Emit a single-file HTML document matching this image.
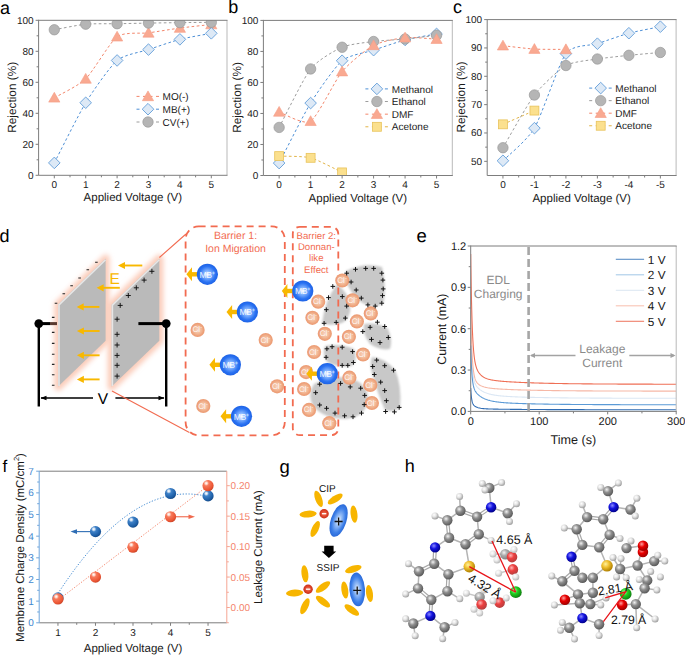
<!DOCTYPE html>
<html><head><meta charset="utf-8"><style>
html,body{margin:0;padding:0;background:#fff;}
body{width:685px;height:656px;overflow:hidden;font-family:"Liberation Sans",sans-serif;}
svg{display:block;text-rendering:geometricPrecision;}
</style></head><body>
<svg width="685" height="656" viewBox="0 0 685 656" font-family="Liberation Sans">
<rect width="685" height="656" fill="#fff"/>
<defs><radialGradient id="gC" cx="0.38" cy="0.35" r="0.65"><stop offset="0" stop-color="#f2f2f2"/><stop offset="0.45" stop-color="#8f8f8f"/><stop offset="1" stop-color="#5a5a5a"/></radialGradient><radialGradient id="gH" cx="0.38" cy="0.35" r="0.65"><stop offset="0" stop-color="#ffffff"/><stop offset="0.45" stop-color="#e4e4e4"/><stop offset="1" stop-color="#a0a0a0"/></radialGradient><radialGradient id="gN" cx="0.38" cy="0.35" r="0.65"><stop offset="0" stop-color="#8a8aff"/><stop offset="0.45" stop-color="#1414e0"/><stop offset="1" stop-color="#00008c"/></radialGradient><radialGradient id="gS" cx="0.38" cy="0.35" r="0.65"><stop offset="0" stop-color="#fff2a0"/><stop offset="0.45" stop-color="#f0c030"/><stop offset="1" stop-color="#b08000"/></radialGradient><radialGradient id="gCl" cx="0.38" cy="0.35" r="0.65"><stop offset="0" stop-color="#b0ffb0"/><stop offset="0.45" stop-color="#20d020"/><stop offset="1" stop-color="#108010"/></radialGradient><radialGradient id="gO" cx="0.38" cy="0.35" r="0.65"><stop offset="0" stop-color="#ffa0a0"/><stop offset="0.45" stop-color="#e80000"/><stop offset="1" stop-color="#a00000"/></radialGradient></defs>
<defs><filter id="glow" x="-40%" y="-40%" width="180%" height="180%"><feGaussianBlur stdDeviation="2.6"/></filter><filter id="soft" x="-20%" y="-20%" width="140%" height="140%"><feGaussianBlur stdDeviation="1.3"/></filter><radialGradient id="gcl" cx="0.5" cy="0.5" r="0.5"><stop offset="0" stop-color="#f8d6c4"/><stop offset="0.55" stop-color="#f2b794"/><stop offset="0.85" stop-color="#eda079"/><stop offset="1" stop-color="#ec9c74"/></radialGradient><radialGradient id="gmb" cx="0.5" cy="0.5" r="0.5"><stop offset="0" stop-color="#f2f7ff"/><stop offset="0.3" stop-color="#86b6ff"/><stop offset="0.75" stop-color="#2a72f2"/><stop offset="1" stop-color="#1d62e6"/></radialGradient><radialGradient id="gion" cx="0.5" cy="0.5" r="0.5"><stop offset="0" stop-color="#ffffff"/><stop offset="0.3" stop-color="#9cc1f7"/><stop offset="0.75" stop-color="#3d7fe8"/><stop offset="1" stop-color="#2b6ad8"/></radialGradient><radialGradient id="gneg" cx="0.5" cy="0.5" r="0.5"><stop offset="0" stop-color="#f07a60"/><stop offset="0.6" stop-color="#e0452a"/><stop offset="1" stop-color="#c8301a"/></radialGradient></defs>
<defs><radialGradient id="gb" cx="0.36" cy="0.3" r="0.72" fx="0.34" fy="0.28"><stop offset="0" stop-color="#ffffff"/><stop offset="0.14" stop-color="#cfe0f3"/><stop offset="0.32" stop-color="#3f82c8"/><stop offset="0.8" stop-color="#1d5ea6"/><stop offset="1" stop-color="#164a86"/></radialGradient><radialGradient id="gr" cx="0.36" cy="0.3" r="0.72" fx="0.34" fy="0.28"><stop offset="0" stop-color="#ffffff"/><stop offset="0.14" stop-color="#ffd9cc"/><stop offset="0.32" stop-color="#f77a5c"/><stop offset="0.8" stop-color="#ec5634"/><stop offset="1" stop-color="#cc4629"/></radialGradient></defs>
<text x="0" y="13.7" font-size="18" text-anchor="start" fill="#000" >a</text>
<text x="33.6" y="178.8" font-size="10" text-anchor="end" fill="#1a1a1a" >0</text>
<text x="33.6" y="147.8" font-size="10" text-anchor="end" fill="#1a1a1a" >20</text>
<text x="33.6" y="116.8" font-size="10" text-anchor="end" fill="#1a1a1a" >40</text>
<text x="33.6" y="85.8" font-size="10" text-anchor="end" fill="#1a1a1a" >60</text>
<text x="33.6" y="54.8" font-size="10" text-anchor="end" fill="#1a1a1a" >80</text>
<text x="33.6" y="23.8" font-size="10" text-anchor="end" fill="#1a1a1a" >100</text>
<text x="54.3" y="188.1" font-size="10" text-anchor="middle" fill="#1a1a1a" >0</text>
<text x="85.7" y="188.1" font-size="10" text-anchor="middle" fill="#1a1a1a" >1</text>
<text x="117.1" y="188.1" font-size="10" text-anchor="middle" fill="#1a1a1a" >2</text>
<text x="148.5" y="188.1" font-size="10" text-anchor="middle" fill="#1a1a1a" >3</text>
<text x="179.9" y="188.1" font-size="10" text-anchor="middle" fill="#1a1a1a" >4</text>
<text x="211.3" y="188.1" font-size="10" text-anchor="middle" fill="#1a1a1a" >5</text>
<path d="M35.6,175.3 H38.6 M35.6,144.3 H38.6 M35.6,113.3 H38.6 M35.6,82.3 H38.6 M35.6,51.3 H38.6 M35.6,20.3 H38.6 M36.6,159.8 H38.6 M36.6,128.8 H38.6 M36.6,97.8 H38.6 M36.6,66.8 H38.6 M36.6,35.8 H38.6 M54.3,175.3 V178.3 M70,175.3 V177.3 M85.7,175.3 V178.3 M101.4,175.3 V177.3 M117.1,175.3 V178.3 M132.8,175.3 V177.3 M148.5,175.3 V178.3 M164.2,175.3 V177.3 M179.9,175.3 V178.3 M195.6,175.3 V177.3 M211.3,175.3 V178.3" stroke="#7d7d7d" stroke-width="1" fill="none"/>
<text x="132.8" y="201.4" font-size="11.5" text-anchor="middle" fill="#1a1a1a" >Applied Voltage (V)</text>
<text transform="translate(16.4,97.3) rotate(-90)" font-size="11.8" text-anchor="middle" fill="#1a1a1a">Rejection (%)</text>
<clipPath id="c1"><rect x="38.6" y="20.3" width="188.4" height="155"/></clipPath>
<g clip-path="url(#c1)">
<path d="M54.3,97.8 C57.75,95.72 78.79,85.61 85.7,78.89 C92.61,72.17 110.19,41.79 117.1,36.73 C124.01,31.67 141.59,33.81 148.5,32.86 C155.41,31.9 172.99,28.97 179.9,28.05 C186.81,27.13 207.85,24.88 211.3,24.49" fill="none" stroke="#f3866b" stroke-width="1" stroke-dasharray="2.6,2.4"/>
<path d="M54.3,162.9 C57.75,156.28 78.79,114.03 85.7,102.76 C92.61,91.49 110.19,66.29 117.1,60.45 C124.01,54.6 141.59,51.91 148.5,49.6 C155.41,47.28 172.99,41.16 179.9,39.37 C186.81,37.57 207.85,33.98 211.3,33.32" fill="none" stroke="#4d8fd6" stroke-width="1" stroke-dasharray="2.6,2.4"/>
<path d="M54.3,29.75 C57.75,29.14 78.79,24.84 85.7,24.18 C92.61,23.51 110.19,23.83 117.1,23.71 C124.01,23.59 141.59,23.21 148.5,23.09 C155.41,22.97 172.99,22.71 179.9,22.62 C186.81,22.54 207.85,22.35 211.3,22.32" fill="none" stroke="#9c9c9c" stroke-width="1" stroke-dasharray="2.6,2.4"/>
<path d="M54.3,92.31 L48.7,102.11 L59.9,102.11 Z" fill="#f9a991" stroke="#f59c84" stroke-width="0.6"/>
<path d="M85.7,73.4 L80.1,83.2 L91.3,83.2 Z" fill="#f9a991" stroke="#f59c84" stroke-width="0.6"/>
<path d="M117.1,31.24 L111.5,41.04 L122.7,41.04 Z" fill="#f9a991" stroke="#f59c84" stroke-width="0.6"/>
<path d="M148.5,27.37 L142.9,37.17 L154.1,37.17 Z" fill="#f9a991" stroke="#f59c84" stroke-width="0.6"/>
<path d="M179.9,22.56 L174.3,32.36 L185.5,32.36 Z" fill="#f9a991" stroke="#f59c84" stroke-width="0.6"/>
<path d="M211.3,19 L205.7,28.8 L216.9,28.8 Z" fill="#f9a991" stroke="#f59c84" stroke-width="0.6"/>
<path d="M54.3,157.1 L60.1,162.9 L54.3,168.7 L48.5,162.9 Z" fill="#dde9f6" stroke="#639ed9" stroke-width="0.9"/>
<path d="M85.7,96.96 L91.5,102.76 L85.7,108.56 L79.9,102.76 Z" fill="#dde9f6" stroke="#639ed9" stroke-width="0.9"/>
<path d="M117.1,54.65 L122.9,60.45 L117.1,66.25 L111.3,60.45 Z" fill="#dde9f6" stroke="#639ed9" stroke-width="0.9"/>
<path d="M148.5,43.8 L154.3,49.6 L148.5,55.4 L142.7,49.6 Z" fill="#dde9f6" stroke="#639ed9" stroke-width="0.9"/>
<path d="M179.9,33.57 L185.7,39.37 L179.9,45.17 L174.1,39.37 Z" fill="#dde9f6" stroke="#639ed9" stroke-width="0.9"/>
<path d="M211.3,27.52 L217.1,33.32 L211.3,39.12 L205.5,33.32 Z" fill="#dde9f6" stroke="#639ed9" stroke-width="0.9"/>
<circle cx="54.3" cy="29.75" r="5.2" fill="#b5b5b5" stroke="#9a9a9a" stroke-width="0.7"/>
<circle cx="85.7" cy="24.18" r="5.2" fill="#b5b5b5" stroke="#9a9a9a" stroke-width="0.7"/>
<circle cx="117.1" cy="23.71" r="5.2" fill="#b5b5b5" stroke="#9a9a9a" stroke-width="0.7"/>
<circle cx="148.5" cy="23.09" r="5.2" fill="#b5b5b5" stroke="#9a9a9a" stroke-width="0.7"/>
<circle cx="179.9" cy="22.62" r="5.2" fill="#b5b5b5" stroke="#9a9a9a" stroke-width="0.7"/>
<circle cx="211.3" cy="22.32" r="5.2" fill="#b5b5b5" stroke="#9a9a9a" stroke-width="0.7"/>
</g>
<path d="M227,20.3 V175.3" stroke="#b9b9b9" stroke-width="1"/>
<path d="M38.6,20.3 H227.5 M38.6,19.8 V175.3 H227.5" fill="none" stroke="#7d7d7d" stroke-width="1"/>
<path d="M136.5,96.4 H159.5" stroke="#f3866b" stroke-width="1" stroke-dasharray="3,3.5"/>
<path d="M148,90.91 L142.4,100.71 L153.6,100.71 Z" fill="#f9a991" stroke="#f59c84" stroke-width="0.6"/>
<text x="162.6" y="100" font-size="10" text-anchor="start" fill="#1a1a1a" >MO(-)</text>
<path d="M136.5,109.2 H159.5" stroke="#4d8fd6" stroke-width="1" stroke-dasharray="3,3.5"/>
<path d="M148,103.4 L153.8,109.2 L148,115 L142.2,109.2 Z" fill="#dde9f6" stroke="#639ed9" stroke-width="0.9"/>
<text x="162.6" y="112.8" font-size="10" text-anchor="start" fill="#1a1a1a" >MB(+)</text>
<path d="M136.5,122 H159.5" stroke="#9c9c9c" stroke-width="1" stroke-dasharray="3,3.5"/>
<circle cx="148" cy="122" r="5.2" fill="#b5b5b5" stroke="#9a9a9a" stroke-width="0.7"/>
<text x="162.6" y="125.6" font-size="10" text-anchor="start" fill="#1a1a1a" >CV(+)</text>
<text x="228.3" y="13.4" font-size="18" text-anchor="start" fill="#000" >b</text>
<text x="258.4" y="179" font-size="10" text-anchor="end" fill="#1a1a1a" >0</text>
<text x="258.4" y="147.98" font-size="10" text-anchor="end" fill="#1a1a1a" >20</text>
<text x="258.4" y="116.96" font-size="10" text-anchor="end" fill="#1a1a1a" >40</text>
<text x="258.4" y="85.94" font-size="10" text-anchor="end" fill="#1a1a1a" >60</text>
<text x="258.4" y="54.92" font-size="10" text-anchor="end" fill="#1a1a1a" >80</text>
<text x="258.4" y="23.9" font-size="10" text-anchor="end" fill="#1a1a1a" >100</text>
<text x="279.14" y="188.3" font-size="10" text-anchor="middle" fill="#1a1a1a" >0</text>
<text x="310.62" y="188.3" font-size="10" text-anchor="middle" fill="#1a1a1a" >1</text>
<text x="342.11" y="188.3" font-size="10" text-anchor="middle" fill="#1a1a1a" >2</text>
<text x="373.59" y="188.3" font-size="10" text-anchor="middle" fill="#1a1a1a" >3</text>
<text x="405.07" y="188.3" font-size="10" text-anchor="middle" fill="#1a1a1a" >4</text>
<text x="436.56" y="188.3" font-size="10" text-anchor="middle" fill="#1a1a1a" >5</text>
<path d="M260.4,175.5 H263.4 M260.4,144.48 H263.4 M260.4,113.46 H263.4 M260.4,82.44 H263.4 M260.4,51.42 H263.4 M260.4,20.4 H263.4 M261.4,159.99 H263.4 M261.4,128.97 H263.4 M261.4,97.95 H263.4 M261.4,66.93 H263.4 M261.4,35.91 H263.4 M279.14,175.5 V178.5 M294.88,175.5 V177.5 M310.62,175.5 V178.5 M326.37,175.5 V177.5 M342.11,175.5 V178.5 M357.85,175.5 V177.5 M373.59,175.5 V178.5 M389.33,175.5 V177.5 M405.07,175.5 V178.5 M420.82,175.5 V177.5 M436.56,175.5 V178.5" stroke="#7d7d7d" stroke-width="1" fill="none"/>
<text x="357.85" y="201.6" font-size="11.5" text-anchor="middle" fill="#1a1a1a" >Applied Voltage (V)</text>
<text transform="translate(241.4,97.45) rotate(-90)" font-size="11.8" text-anchor="middle" fill="#1a1a1a">Rejection (%)</text>
<clipPath id="c2"><rect x="263.4" y="20.4" width="188.9" height="155.1"/></clipPath>
<g clip-path="url(#c2)">
<path d="M279.14,163.09 C282.6,156.49 303.7,114.33 310.62,103.07 C317.55,91.81 335.18,66.54 342.11,60.73 C349.03,54.91 366.67,52.47 373.59,50.18 C380.52,47.89 398.15,41.73 405.07,39.94 C412,38.15 433.1,34.56 436.56,33.89" fill="none" stroke="#4d8fd6" stroke-width="1" stroke-dasharray="2.6,2.4"/>
<path d="M279.14,127.42 C282.6,120.99 303.7,77.77 310.62,68.95 C317.55,60.13 335.18,50.25 342.11,47.23 C349.03,44.21 366.67,42.4 373.59,41.49 C380.52,40.59 398.15,39.69 405.07,39.01 C412,38.33 433.1,35.7 436.56,35.29" fill="none" stroke="#9c9c9c" stroke-width="1" stroke-dasharray="2.6,2.4"/>
<path d="M279.14,111.91 C282.6,112.93 303.7,125.65 310.62,121.22 C317.55,116.78 335.18,79.93 342.11,71.58 C349.03,63.24 366.67,49.11 373.59,45.37 C380.52,41.63 398.15,38.3 405.07,37.62 C412,36.93 433.1,39 436.56,39.17" fill="none" stroke="#f3866b" stroke-width="1" stroke-dasharray="2.6,2.4"/>
<path d="M279.14,156.11 C282.6,156.3 303.7,156.03 310.62,157.82 C317.55,159.61 338.65,170.79 342.11,172.4" fill="none" stroke="#e2b448" stroke-width="1" stroke-dasharray="2.6,2.4"/>
<path d="M279.14,157.29 L284.94,163.09 L279.14,168.89 L273.34,163.09 Z" fill="#dde9f6" stroke="#639ed9" stroke-width="0.9"/>
<path d="M310.62,97.27 L316.43,103.07 L310.62,108.87 L304.82,103.07 Z" fill="#dde9f6" stroke="#639ed9" stroke-width="0.9"/>
<path d="M342.11,54.93 L347.91,60.73 L342.11,66.53 L336.31,60.73 Z" fill="#dde9f6" stroke="#639ed9" stroke-width="0.9"/>
<path d="M373.59,44.38 L379.39,50.18 L373.59,55.98 L367.79,50.18 Z" fill="#dde9f6" stroke="#639ed9" stroke-width="0.9"/>
<path d="M405.07,34.14 L410.88,39.94 L405.07,45.74 L399.27,39.94 Z" fill="#dde9f6" stroke="#639ed9" stroke-width="0.9"/>
<path d="M436.56,28.09 L442.36,33.89 L436.56,39.69 L430.76,33.89 Z" fill="#dde9f6" stroke="#639ed9" stroke-width="0.9"/>
<circle cx="279.14" cy="127.42" r="5.2" fill="#b5b5b5" stroke="#9a9a9a" stroke-width="0.7"/>
<circle cx="310.62" cy="68.95" r="5.2" fill="#b5b5b5" stroke="#9a9a9a" stroke-width="0.7"/>
<circle cx="342.11" cy="47.23" r="5.2" fill="#b5b5b5" stroke="#9a9a9a" stroke-width="0.7"/>
<circle cx="373.59" cy="41.49" r="5.2" fill="#b5b5b5" stroke="#9a9a9a" stroke-width="0.7"/>
<circle cx="405.07" cy="39.01" r="5.2" fill="#b5b5b5" stroke="#9a9a9a" stroke-width="0.7"/>
<circle cx="436.56" cy="35.29" r="5.2" fill="#b5b5b5" stroke="#9a9a9a" stroke-width="0.7"/>
<path d="M279.14,106.42 L273.54,116.22 L284.74,116.22 Z" fill="#f9a991" stroke="#f59c84" stroke-width="0.6"/>
<path d="M310.62,115.73 L305.02,125.53 L316.23,125.53 Z" fill="#f9a991" stroke="#f59c84" stroke-width="0.6"/>
<path d="M342.11,66.09 L336.51,75.89 L347.71,75.89 Z" fill="#f9a991" stroke="#f59c84" stroke-width="0.6"/>
<path d="M373.59,39.88 L367.99,49.68 L379.19,49.68 Z" fill="#f9a991" stroke="#f59c84" stroke-width="0.6"/>
<path d="M405.07,32.13 L399.47,41.93 L410.68,41.93 Z" fill="#f9a991" stroke="#f59c84" stroke-width="0.6"/>
<path d="M436.56,33.68 L430.96,43.48 L442.16,43.48 Z" fill="#f9a991" stroke="#f59c84" stroke-width="0.6"/>
<rect x="274.69" y="151.66" width="8.9" height="8.9" fill="#fbe08e" stroke="#e8c25a" stroke-width="0.8"/>
<rect x="306.18" y="153.37" width="8.9" height="8.9" fill="#fbe08e" stroke="#e8c25a" stroke-width="0.8"/>
<rect x="337.66" y="167.95" width="8.9" height="8.9" fill="#fbe08e" stroke="#e8c25a" stroke-width="0.8"/>
</g>
<path d="M452.3,20.4 V175.5" stroke="#b9b9b9" stroke-width="1"/>
<path d="M263.4,20.4 H452.8 M263.4,19.9 V175.5 H452.8" fill="none" stroke="#7d7d7d" stroke-width="1"/>
<path d="M365.4,88.9 H388.4" stroke="#4d8fd6" stroke-width="1" stroke-dasharray="3,3.5"/>
<path d="M376.9,83.1 L382.7,88.9 L376.9,94.7 L371.1,88.9 Z" fill="#dde9f6" stroke="#639ed9" stroke-width="0.9"/>
<text x="391.8" y="92.5" font-size="10" text-anchor="start" fill="#1a1a1a" >Methanol</text>
<path d="M365.4,101.53 H388.4" stroke="#9c9c9c" stroke-width="1" stroke-dasharray="3,3.5"/>
<circle cx="376.9" cy="101.53" r="5.2" fill="#b5b5b5" stroke="#9a9a9a" stroke-width="0.7"/>
<text x="391.8" y="105.13" font-size="10" text-anchor="start" fill="#1a1a1a" >Ethanol</text>
<path d="M365.4,114.16 H388.4" stroke="#f3866b" stroke-width="1" stroke-dasharray="3,3.5"/>
<path d="M376.9,108.67 L371.3,118.47 L382.5,118.47 Z" fill="#f9a991" stroke="#f59c84" stroke-width="0.6"/>
<text x="391.8" y="117.76" font-size="10" text-anchor="start" fill="#1a1a1a" >DMF</text>
<path d="M365.4,126.79 H388.4" stroke="#e2b448" stroke-width="1" stroke-dasharray="3,3.5"/>
<rect x="372.45" y="122.34" width="8.9" height="8.9" fill="#fbe08e" stroke="#e8c25a" stroke-width="0.8"/>
<text x="391.8" y="130.39" font-size="10" text-anchor="start" fill="#1a1a1a" >Acetone</text>
<text x="453" y="13.4" font-size="18" text-anchor="start" fill="#000" >c</text>
<text x="482.2" y="164.83" font-size="10" text-anchor="end" fill="#1a1a1a" >50</text>
<text x="482.2" y="136.48" font-size="10" text-anchor="end" fill="#1a1a1a" >60</text>
<text x="482.2" y="108.14" font-size="10" text-anchor="end" fill="#1a1a1a" >70</text>
<text x="482.2" y="79.79" font-size="10" text-anchor="end" fill="#1a1a1a" >80</text>
<text x="482.2" y="51.45" font-size="10" text-anchor="end" fill="#1a1a1a" >90</text>
<text x="482.2" y="23.1" font-size="10" text-anchor="end" fill="#1a1a1a" >100</text>
<text x="502.94" y="188.3" font-size="10" text-anchor="middle" fill="#1a1a1a" >0</text>
<text x="534.42" y="188.3" font-size="10" text-anchor="middle" fill="#1a1a1a" >-1</text>
<text x="565.91" y="188.3" font-size="10" text-anchor="middle" fill="#1a1a1a" >-2</text>
<text x="597.39" y="188.3" font-size="10" text-anchor="middle" fill="#1a1a1a" >-3</text>
<text x="628.88" y="188.3" font-size="10" text-anchor="middle" fill="#1a1a1a" >-4</text>
<text x="660.36" y="188.3" font-size="10" text-anchor="middle" fill="#1a1a1a" >-5</text>
<path d="M484.2,161.33 H487.2 M484.2,132.98 H487.2 M484.2,104.64 H487.2 M484.2,76.29 H487.2 M484.2,47.95 H487.2 M484.2,19.6 H487.2 M485.2,147.15 H487.2 M485.2,118.81 H487.2 M485.2,90.46 H487.2 M485.2,62.12 H487.2 M485.2,33.77 H487.2 M502.94,175.5 V178.5 M518.68,175.5 V177.5 M534.42,175.5 V178.5 M550.17,175.5 V177.5 M565.91,175.5 V178.5 M581.65,175.5 V177.5 M597.39,175.5 V178.5 M613.13,175.5 V177.5 M628.88,175.5 V178.5 M644.62,175.5 V177.5 M660.36,175.5 V178.5" stroke="#7d7d7d" stroke-width="1" fill="none"/>
<text x="581.65" y="201.6" font-size="11.5" text-anchor="middle" fill="#1a1a1a" >Applied Voltage (V)</text>
<text transform="translate(465.2,97.05) rotate(-90)" font-size="11.8" text-anchor="middle" fill="#1a1a1a">Rejection (%)</text>
<clipPath id="c3"><rect x="487.2" y="19.6" width="188.9" height="155.9"/></clipPath>
<g clip-path="url(#c3)">
<path d="M502.94,160.76 C506.4,157.17 527.5,139.95 534.42,128.16 C541.35,116.38 558.98,62.91 565.91,53.61 C572.83,44.32 590.47,45.94 597.39,43.69 C604.32,41.45 621.95,35.08 628.88,33.21 C635.8,31.34 656.9,27.4 660.36,26.69" fill="none" stroke="#4d8fd6" stroke-width="1" stroke-dasharray="2.6,2.4"/>
<path d="M502.94,147.72 C506.4,141.92 527.5,104.04 534.42,95 C541.35,85.96 558.98,69.48 565.91,65.52 C572.83,61.56 590.47,60.12 597.39,59 C604.32,57.88 621.95,56.03 628.88,55.32 C635.8,54.6 656.9,52.79 660.36,52.48" fill="none" stroke="#9c9c9c" stroke-width="1" stroke-dasharray="2.6,2.4"/>
<path d="M502.94,45.68 C506.4,46.05 527.5,48.67 534.42,49.08 C541.35,49.48 562.45,49.33 565.91,49.36" fill="none" stroke="#f3866b" stroke-width="1" stroke-dasharray="2.6,2.4"/>
<path d="M502.94,124.34 C506.4,122.82 530.96,112.1 534.42,110.59" fill="none" stroke="#e2b448" stroke-width="1" stroke-dasharray="2.6,2.4"/>
<path d="M502.94,154.96 L508.74,160.76 L502.94,166.56 L497.14,160.76 Z" fill="#dde9f6" stroke="#639ed9" stroke-width="0.9"/>
<path d="M534.42,122.36 L540.22,128.16 L534.42,133.96 L528.62,128.16 Z" fill="#dde9f6" stroke="#639ed9" stroke-width="0.9"/>
<path d="M565.91,47.81 L571.71,53.61 L565.91,59.41 L560.11,53.61 Z" fill="#dde9f6" stroke="#639ed9" stroke-width="0.9"/>
<path d="M597.39,37.89 L603.19,43.69 L597.39,49.49 L591.59,43.69 Z" fill="#dde9f6" stroke="#639ed9" stroke-width="0.9"/>
<path d="M628.88,27.41 L634.67,33.21 L628.88,39.01 L623.08,33.21 Z" fill="#dde9f6" stroke="#639ed9" stroke-width="0.9"/>
<path d="M660.36,20.89 L666.16,26.69 L660.36,32.49 L654.56,26.69 Z" fill="#dde9f6" stroke="#639ed9" stroke-width="0.9"/>
<circle cx="502.94" cy="147.72" r="5.2" fill="#b5b5b5" stroke="#9a9a9a" stroke-width="0.7"/>
<circle cx="534.42" cy="95" r="5.2" fill="#b5b5b5" stroke="#9a9a9a" stroke-width="0.7"/>
<circle cx="565.91" cy="65.52" r="5.2" fill="#b5b5b5" stroke="#9a9a9a" stroke-width="0.7"/>
<circle cx="597.39" cy="59" r="5.2" fill="#b5b5b5" stroke="#9a9a9a" stroke-width="0.7"/>
<circle cx="628.88" cy="55.32" r="5.2" fill="#b5b5b5" stroke="#9a9a9a" stroke-width="0.7"/>
<circle cx="660.36" cy="52.48" r="5.2" fill="#b5b5b5" stroke="#9a9a9a" stroke-width="0.7"/>
<path d="M502.94,40.19 L497.34,49.99 L508.54,49.99 Z" fill="#f9a991" stroke="#f59c84" stroke-width="0.6"/>
<path d="M534.42,43.59 L528.82,53.39 L540.02,53.39 Z" fill="#f9a991" stroke="#f59c84" stroke-width="0.6"/>
<path d="M565.91,43.87 L560.31,53.67 L571.51,53.67 Z" fill="#f9a991" stroke="#f59c84" stroke-width="0.6"/>
<rect x="498.49" y="119.89" width="8.9" height="8.9" fill="#fbe08e" stroke="#e8c25a" stroke-width="0.8"/>
<rect x="529.97" y="106.14" width="8.9" height="8.9" fill="#fbe08e" stroke="#e8c25a" stroke-width="0.8"/>
</g>
<path d="M676.1,19.6 V175.5" stroke="#b9b9b9" stroke-width="1"/>
<path d="M487.2,19.6 H676.6 M487.2,19.1 V175.5 H676.6" fill="none" stroke="#7d7d7d" stroke-width="1"/>
<path d="M589.2,88.1 H612.2" stroke="#4d8fd6" stroke-width="1" stroke-dasharray="3,3.5"/>
<path d="M600.7,82.3 L606.5,88.1 L600.7,93.9 L594.9,88.1 Z" fill="#dde9f6" stroke="#639ed9" stroke-width="0.9"/>
<text x="615.3" y="91.7" font-size="10" text-anchor="start" fill="#1a1a1a" >Methanol</text>
<path d="M589.2,100.65 H612.2" stroke="#9c9c9c" stroke-width="1" stroke-dasharray="3,3.5"/>
<circle cx="600.7" cy="100.65" r="5.2" fill="#b5b5b5" stroke="#9a9a9a" stroke-width="0.7"/>
<text x="615.3" y="104.25" font-size="10" text-anchor="start" fill="#1a1a1a" >Ethanol</text>
<path d="M589.2,113.2 H612.2" stroke="#f3866b" stroke-width="1" stroke-dasharray="3,3.5"/>
<path d="M600.7,107.71 L595.1,117.51 L606.3,117.51 Z" fill="#f9a991" stroke="#f59c84" stroke-width="0.6"/>
<text x="615.3" y="116.8" font-size="10" text-anchor="start" fill="#1a1a1a" >DMF</text>
<path d="M589.2,125.75 H612.2" stroke="#e2b448" stroke-width="1" stroke-dasharray="3,3.5"/>
<rect x="596.25" y="121.3" width="8.9" height="8.9" fill="#fbe08e" stroke="#e8c25a" stroke-width="0.8"/>
<text x="615.3" y="129.35" font-size="10" text-anchor="start" fill="#1a1a1a" >Acetone</text>
<text x="416.6" y="241.7" font-size="18.5" text-anchor="start" fill="#000" >e</text>
<text x="466.2" y="415.3" font-size="11" text-anchor="end" fill="#1a1a1a" >0.0</text>
<text x="466.2" y="373.95" font-size="11" text-anchor="end" fill="#1a1a1a" >0.3</text>
<text x="466.2" y="332.6" font-size="11" text-anchor="end" fill="#1a1a1a" >0.6</text>
<text x="466.2" y="291.25" font-size="11" text-anchor="end" fill="#1a1a1a" >0.9</text>
<text x="466.2" y="249.9" font-size="11" text-anchor="end" fill="#1a1a1a" >1.2</text>
<text x="470.7" y="425.4" font-size="11" text-anchor="middle" fill="#1a1a1a" >0</text>
<text x="539.2" y="425.4" font-size="11" text-anchor="middle" fill="#1a1a1a" >100</text>
<text x="607.7" y="425.4" font-size="11" text-anchor="middle" fill="#1a1a1a" >200</text>
<text x="676.2" y="425.4" font-size="11" text-anchor="middle" fill="#1a1a1a" >300</text>
<path d="M467.7,411.4 H470.7 M467.7,370.05 H470.7 M467.7,328.7 H470.7 M467.7,287.35 H470.7 M467.7,246 H470.7 M468.7,390.72 H470.7 M468.7,349.38 H470.7 M468.7,308.02 H470.7 M468.7,266.67 H470.7 M470.7,411.4 V414.4 M539.2,411.4 V414.4 M607.7,411.4 V414.4 M676.2,411.4 V414.4 M504.95,411.4 V413.4 M573.45,411.4 V413.4 M641.95,411.4 V413.4" stroke="#7d7d7d" stroke-width="1" fill="none"/>
<text x="573.3" y="444.4" font-size="12.6" text-anchor="middle" fill="#1a1a1a" >Time (s)</text>
<text transform="translate(445.8,329.2) rotate(-90)" font-size="12.3" text-anchor="middle" fill="#1a1a1a">Current (mA)</text>
<clipPath id="ce"><rect x="470.7" y="246" width="205.5" height="165.4"/></clipPath>
<g clip-path="url(#ce)">
<polyline points="470.7,332.15 470.87,338.4 471.04,343.89 471.21,348.7 471.38,352.92 471.56,356.64 471.73,359.91 471.9,362.79 472.07,365.33 472.24,367.58 472.41,369.57 472.58,371.33 472.75,372.9 472.93,374.3 473.1,375.54 473.27,376.66 473.44,377.66 473.61,378.56 473.78,379.37 473.95,380.1 474.12,380.77 474.3,381.38 474.47,381.93 474.64,382.44 474.81,382.91 474.98,383.34 475.15,383.74 475.32,384.12 475.5,384.47 475.67,384.79 475.84,385.1 476.01,385.39 476.18,385.66 476.35,385.92 476.52,386.17 476.69,386.4 476.87,386.63 477.04,386.84 477.21,387.05 477.38,387.25 477.55,387.44 478.24,388.15 478.92,388.78 479.61,389.34 480.29,389.86 480.97,390.34 481.66,390.77 482.34,391.18 483.03,391.55 483.71,391.9 484.4,392.22 485.08,392.52 485.77,392.8 486.45,393.05 487.14,393.3 487.82,393.52 488.51,393.73 489.19,393.93 489.88,394.11 490.56,394.28 491.25,394.44 491.94,394.59 492.62,394.73 493.31,394.86 493.99,394.99 494.68,395.1 495.36,395.21 496.05,395.32 496.73,395.41 497.42,395.51 498.1,395.59 498.78,395.68 499.47,395.75 500.15,395.83 500.84,395.9 501.52,395.96 502.21,396.03 502.89,396.09 503.58,396.14 504.26,396.2 504.95,396.25 505.63,396.3 506.32,396.35 507,396.4 507.69,396.44 508.38,396.48 509.06,396.52 509.75,396.56 510.43,396.6 511.12,396.64 511.8,396.67 512.49,396.71 513.17,396.74 513.86,396.77 514.54,396.8 515.23,396.83 515.91,396.86 516.6,396.89 517.28,396.92 517.97,396.94 518.65,396.97 519.34,396.99 520.02,397.02 520.71,397.04 521.39,397.07 522.08,397.09 522.76,397.11 523.45,397.13 524.13,397.15 524.82,397.17 525.5,397.19 526.19,397.21 526.87,397.23 527.56,397.25 528.24,397.27 528.92,397.29 529.61,397.31 530.29,397.32 530.98,397.34 531.66,397.36 532.35,397.37 533.03,397.39 533.72,397.41 534.4,397.42 535.09,397.44 535.77,397.45 536.46,397.47 537.14,397.48 537.83,397.49 538.51,397.51 539.2,397.52 541.94,397.57 544.68,397.62 547.42,397.66 550.16,397.71 552.9,397.75 555.64,397.78 558.38,397.82 561.12,397.85 563.86,397.88 566.6,397.9 569.34,397.93 572.08,397.95 574.82,397.98 577.56,398 580.3,398.02 583.04,398.04 585.78,398.05 588.52,398.07 591.26,398.09 594,398.1 596.74,398.11 599.48,398.13 602.22,398.14 604.96,398.15 607.7,398.16 610.44,398.17 613.18,398.18 615.92,398.19 618.66,398.19 621.4,398.2 624.14,398.21 626.88,398.21 629.62,398.22 632.36,398.22 635.1,398.23 637.84,398.23 640.58,398.24 643.32,398.24 646.06,398.25 648.8,398.25 651.54,398.26 654.28,398.26 657.02,398.26 659.76,398.26 662.5,398.27 665.24,398.27 667.98,398.27 670.72,398.27 673.46,398.28 676.2,398.28" fill="none" stroke="#dbe7f4" stroke-width="1.1"/>
<polyline points="470.7,311.2 470.87,318.92 471.04,325.78 471.21,331.88 471.38,337.29 471.56,342.1 471.73,346.38 471.9,350.19 472.07,353.59 472.24,356.61 472.41,359.32 472.58,361.73 472.75,363.89 472.93,365.83 473.1,367.56 473.27,369.12 473.44,370.52 473.61,371.78 473.78,372.91 473.95,373.94 474.12,374.87 474.3,375.71 474.47,376.47 474.64,377.16 474.81,377.8 474.98,378.38 475.15,378.91 475.32,379.39 475.5,379.84 475.67,380.25 475.84,380.63 476.01,380.99 476.18,381.31 476.35,381.62 476.52,381.9 476.69,382.17 476.87,382.42 477.04,382.65 477.21,382.87 477.38,383.08 477.55,383.27 478.24,383.96 478.92,384.52 479.61,385 480.29,385.41 480.97,385.77 481.66,386.09 482.34,386.36 483.03,386.61 483.71,386.84 484.4,387.04 485.08,387.22 485.77,387.39 486.45,387.54 487.14,387.68 487.82,387.81 488.51,387.92 489.19,388.03 489.88,388.13 490.56,388.22 491.25,388.31 491.94,388.39 492.62,388.46 493.31,388.53 493.99,388.6 494.68,388.66 495.36,388.72 496.05,388.77 496.73,388.82 497.42,388.87 498.1,388.92 498.78,388.97 499.47,389.01 500.15,389.06 500.84,389.1 501.52,389.14 502.21,389.17 502.89,389.21 503.58,389.25 504.26,389.28 504.95,389.31 505.63,389.35 506.32,389.38 507,389.41 507.69,389.44 508.38,389.47 509.06,389.5 509.75,389.53 510.43,389.56 511.12,389.58 511.8,389.61 512.49,389.64 513.17,389.66 513.86,389.69 514.54,389.71 515.23,389.73 515.91,389.76 516.6,389.78 517.28,389.8 517.97,389.83 518.65,389.85 519.34,389.87 520.02,389.89 520.71,389.91 521.39,389.93 522.08,389.95 522.76,389.97 523.45,389.99 524.13,390.01 524.82,390.03 525.5,390.05 526.19,390.07 526.87,390.08 527.56,390.1 528.24,390.12 528.92,390.14 529.61,390.15 530.29,390.17 530.98,390.18 531.66,390.2 532.35,390.22 533.03,390.23 533.72,390.25 534.4,390.26 535.09,390.28 535.77,390.29 536.46,390.3 537.14,390.32 537.83,390.33 538.51,390.34 539.2,390.36 541.94,390.41 544.68,390.45 547.42,390.5 550.16,390.54 552.9,390.58 555.64,390.61 558.38,390.65 561.12,390.68 563.86,390.71 566.6,390.74 569.34,390.76 572.08,390.79 574.82,390.81 577.56,390.83 580.3,390.85 583.04,390.87 585.78,390.89 588.52,390.9 591.26,390.92 594,390.93 596.74,390.95 599.48,390.96 602.22,390.97 604.96,390.98 607.7,390.99 610.44,391 613.18,391.01 615.92,391.02 618.66,391.03 621.4,391.03 624.14,391.04 626.88,391.05 629.62,391.05 632.36,391.06 635.1,391.06 637.84,391.07 640.58,391.07 643.32,391.08 646.06,391.08 648.8,391.08 651.54,391.09 654.28,391.09 657.02,391.09 659.76,391.1 662.5,391.1 665.24,391.1 667.98,391.1 670.72,391.11 673.46,391.11 676.2,391.11" fill="none" stroke="#f6b8a6" stroke-width="1.1"/>
<polyline points="470.7,345.52 470.87,351.46 471.04,356.58 471.21,361.01 471.38,364.84 471.56,368.16 471.73,371.04 471.9,373.55 472.07,375.73 472.24,377.63 472.41,379.3 472.58,380.76 472.75,382.05 472.93,383.19 473.1,384.2 473.27,385.09 473.44,385.9 473.61,386.62 473.78,387.26 473.95,387.85 474.12,388.38 474.3,388.87 474.47,389.31 474.64,389.72 474.81,390.1 474.98,390.46 475.15,390.79 475.32,391.1 475.5,391.39 475.67,391.66 475.84,391.93 476.01,392.18 476.18,392.41 476.35,392.64 476.52,392.86 476.69,393.07 476.87,393.27 477.04,393.47 477.21,393.66 477.38,393.84 477.55,394.02 478.24,394.69 478.92,395.29 479.61,395.84 480.29,396.35 480.97,396.82 481.66,397.26 482.34,397.66 483.03,398.03 483.71,398.38 484.4,398.7 485.08,399 485.77,399.27 486.45,399.53 487.14,399.77 487.82,400 488.51,400.21 489.19,400.4 489.88,400.59 490.56,400.76 491.25,400.92 491.94,401.07 492.62,401.21 493.31,401.34 493.99,401.46 494.68,401.58 495.36,401.69 496.05,401.79 496.73,401.89 497.42,401.98 498.1,402.07 498.78,402.15 499.47,402.23 500.15,402.31 500.84,402.38 501.52,402.44 502.21,402.51 502.89,402.57 503.58,402.62 504.26,402.68 504.95,402.73 505.63,402.78 506.32,402.83 507,402.87 507.69,402.92 508.38,402.96 509.06,403 509.75,403.04 510.43,403.08 511.12,403.12 511.8,403.15 512.49,403.19 513.17,403.22 513.86,403.25 514.54,403.28 515.23,403.31 515.91,403.34 516.6,403.37 517.28,403.4 517.97,403.42 518.65,403.45 519.34,403.47 520.02,403.5 520.71,403.52 521.39,403.54 522.08,403.57 522.76,403.59 523.45,403.61 524.13,403.63 524.82,403.65 525.5,403.67 526.19,403.69 526.87,403.71 527.56,403.73 528.24,403.75 528.92,403.77 529.61,403.78 530.29,403.8 530.98,403.82 531.66,403.84 532.35,403.85 533.03,403.87 533.72,403.88 534.4,403.9 535.09,403.91 535.77,403.93 536.46,403.94 537.14,403.96 537.83,403.97 538.51,403.99 539.2,404 541.94,404.05 544.68,404.1 547.42,404.14 550.16,404.18 552.9,404.22 555.64,404.26 558.38,404.29 561.12,404.33 563.86,404.36 566.6,404.38 569.34,404.41 572.08,404.43 574.82,404.46 577.56,404.48 580.3,404.5 583.04,404.52 585.78,404.53 588.52,404.55 591.26,404.56 594,404.58 596.74,404.59 599.48,404.6 602.22,404.62 604.96,404.63 607.7,404.64 610.44,404.65 613.18,404.65 615.92,404.66 618.66,404.67 621.4,404.68 624.14,404.69 626.88,404.69 629.62,404.7 632.36,404.7 635.1,404.71 637.84,404.71 640.58,404.72 643.32,404.72 646.06,404.73 648.8,404.73 651.54,404.73 654.28,404.74 657.02,404.74 659.76,404.74 662.5,404.75 665.24,404.75 667.98,404.75 670.72,404.75 673.46,404.75 676.2,404.76" fill="none" stroke="#5b9ad6" stroke-width="1.1"/>
<polyline points="470.7,253.99 470.87,266.21 471.04,277.06 471.21,286.71 471.38,295.3 471.56,302.95 471.73,309.77 471.9,315.85 472.07,321.28 472.24,326.14 472.41,330.49 472.58,334.38 472.75,337.87 472.93,341.01 473.1,343.83 473.27,346.37 473.44,348.67 473.61,350.74 473.78,352.62 473.95,354.32 474.12,355.87 474.3,357.27 474.47,358.56 474.64,359.73 474.81,360.81 474.98,361.8 475.15,362.71 475.32,363.55 475.5,364.32 475.67,365.04 475.84,365.71 476.01,366.33 476.18,366.91 476.35,367.45 476.52,367.96 476.69,368.44 476.87,368.89 477.04,369.31 477.21,369.71 477.38,370.09 477.55,370.45 478.24,371.72 478.92,372.78 479.61,373.68 480.29,374.46 480.97,375.14 481.66,375.73 482.34,376.26 483.03,376.73 483.71,377.16 484.4,377.54 485.08,377.88 485.77,378.18 486.45,378.46 487.14,378.72 487.82,378.95 488.51,379.16 489.19,379.35 489.88,379.52 490.56,379.69 491.25,379.84 491.94,379.97 492.62,380.1 493.31,380.22 493.99,380.33 494.68,380.44 495.36,380.54 496.05,380.63 496.73,380.72 497.42,380.8 498.1,380.88 498.78,380.95 499.47,381.02 500.15,381.09 500.84,381.16 501.52,381.22 502.21,381.28 502.89,381.34 503.58,381.39 504.26,381.45 504.95,381.5 505.63,381.55 506.32,381.6 507,381.65 507.69,381.69 508.38,381.74 509.06,381.78 509.75,381.83 510.43,381.87 511.12,381.91 511.8,381.95 512.49,381.99 513.17,382.03 513.86,382.07 514.54,382.1 515.23,382.14 515.91,382.17 516.6,382.21 517.28,382.24 517.97,382.28 518.65,382.31 519.34,382.34 520.02,382.38 520.71,382.41 521.39,382.44 522.08,382.47 522.76,382.5 523.45,382.53 524.13,382.55 524.82,382.58 525.5,382.61 526.19,382.64 526.87,382.66 527.56,382.69 528.24,382.72 528.92,382.74 529.61,382.77 530.29,382.79 530.98,382.82 531.66,382.84 532.35,382.86 533.03,382.89 533.72,382.91 534.4,382.93 535.09,382.95 535.77,382.97 536.46,382.99 537.14,383.02 537.83,383.04 538.51,383.06 539.2,383.08 541.94,383.15 544.68,383.22 547.42,383.29 550.16,383.35 552.9,383.41 555.64,383.46 558.38,383.51 561.12,383.56 563.86,383.6 566.6,383.65 569.34,383.68 572.08,383.72 574.82,383.75 577.56,383.79 580.3,383.82 583.04,383.84 585.78,383.87 588.52,383.89 591.26,383.92 594,383.94 596.74,383.96 599.48,383.98 602.22,383.99 604.96,384.01 607.7,384.03 610.44,384.04 613.18,384.05 615.92,384.07 618.66,384.08 621.4,384.09 624.14,384.1 626.88,384.11 629.62,384.12 632.36,384.13 635.1,384.13 637.84,384.14 640.58,384.15 643.32,384.15 646.06,384.16 648.8,384.17 651.54,384.17 654.28,384.18 657.02,384.18 659.76,384.18 662.5,384.19 665.24,384.19 667.98,384.2 670.72,384.2 673.46,384.2 676.2,384.21" fill="none" stroke="#ef6f55" stroke-width="1.1"/>
<polyline points="470.7,387.97 470.87,390.85 471.04,393.23 471.21,395.2 471.38,396.84 471.56,398.21 471.73,399.35 471.9,400.32 472.07,401.14 472.24,401.83 472.41,402.43 472.58,402.94 472.75,403.39 472.93,403.77 473.1,404.11 473.27,404.42 473.44,404.68 473.61,404.93 473.78,405.14 473.95,405.34 474.12,405.52 474.3,405.69 474.47,405.84 474.64,405.99 474.81,406.12 474.98,406.25 475.15,406.36 475.32,406.47 475.5,406.58 475.67,406.68 475.84,406.77 476.01,406.86 476.18,406.95 476.35,407.03 476.52,407.11 476.69,407.18 476.87,407.25 477.04,407.32 477.21,407.38 477.38,407.45 477.55,407.51 478.24,407.72 478.92,407.91 479.61,408.07 480.29,408.2 480.97,408.32 481.66,408.42 482.34,408.51 483.03,408.59 483.71,408.65 484.4,408.71 485.08,408.76 485.77,408.81 486.45,408.85 487.14,408.88 487.82,408.91 488.51,408.94 489.19,408.97 489.88,408.99 490.56,409.01 491.25,409.03 491.94,409.05 492.62,409.07 493.31,409.08 493.99,409.1 494.68,409.11 495.36,409.12 496.05,409.14 496.73,409.15 497.42,409.16 498.1,409.17 498.78,409.18 499.47,409.19 500.15,409.2 500.84,409.21 501.52,409.22 502.21,409.23 502.89,409.24 503.58,409.25 504.26,409.26 504.95,409.27 505.63,409.27 506.32,409.28 507,409.29 507.69,409.3 508.38,409.3 509.06,409.31 509.75,409.32 510.43,409.33 511.12,409.33 511.8,409.34 512.49,409.35 513.17,409.35 513.86,409.36 514.54,409.37 515.23,409.37 515.91,409.38 516.6,409.38 517.28,409.39 517.97,409.4 518.65,409.4 519.34,409.41 520.02,409.41 520.71,409.42 521.39,409.42 522.08,409.43 522.76,409.44 523.45,409.44 524.13,409.45 524.82,409.45 525.5,409.46 526.19,409.46 526.87,409.46 527.56,409.47 528.24,409.47 528.92,409.48 529.61,409.48 530.29,409.49 530.98,409.49 531.66,409.5 532.35,409.5 533.03,409.5 533.72,409.51 534.4,409.51 535.09,409.52 535.77,409.52 536.46,409.52 537.14,409.53 537.83,409.53 538.51,409.53 539.2,409.54 541.94,409.55 544.68,409.56 547.42,409.58 550.16,409.59 552.9,409.6 555.64,409.61 558.38,409.62 561.12,409.62 563.86,409.63 566.6,409.64 569.34,409.65 572.08,409.65 574.82,409.66 577.56,409.66 580.3,409.67 583.04,409.67 585.78,409.68 588.52,409.68 591.26,409.69 594,409.69 596.74,409.69 599.48,409.7 602.22,409.7 604.96,409.7 607.7,409.71 610.44,409.71 613.18,409.71 615.92,409.71 618.66,409.72 621.4,409.72 624.14,409.72 626.88,409.72 629.62,409.72 632.36,409.72 635.1,409.73 637.84,409.73 640.58,409.73 643.32,409.73 646.06,409.73 648.8,409.73 651.54,409.73 654.28,409.73 657.02,409.73 659.76,409.73 662.5,409.74 665.24,409.74 667.98,409.74 670.72,409.74 673.46,409.74 676.2,409.74" fill="none" stroke="#2f6cb4" stroke-width="1.1"/>
</g>
<path d="M676.2,246 V411.4" stroke="#b9b9b9" stroke-width="1"/>
<path d="M470.7,246 H676.7 M470.7,245.5 V411.4 H676.7" fill="none" stroke="#7d7d7d" stroke-width="1"/>
<path d="M528.6,247 V411" stroke="#a6a6a6" stroke-width="2.6" stroke-dasharray="8,4"/>
<text x="498.2" y="284.3" font-size="12" text-anchor="middle" fill="#8a8a8a" >EDL</text>
<text x="498.2" y="298.2" font-size="12" text-anchor="middle" fill="#8a8a8a" >Charging</text>
<path d="M531,355.5 H575.5 M629.3,355.5 H674" stroke="#a3a3a3" stroke-width="1.4"/>
<path d="M530,355.5 l5,-2.6 v5.2 Z M675.5,355.5 l-5,-2.6 v5.2 Z" fill="#a0a0a0"/>
<text x="602.3" y="352.8" font-size="12" text-anchor="middle" fill="#8a8a8a" >Leakage</text>
<text x="602.3" y="366.5" font-size="12" text-anchor="middle" fill="#8a8a8a" >Current</text>
<path d="M615.8,259.3 H644.1" stroke="#5b8fc7" stroke-width="1.1"/>
<text x="647.8" y="263.6" font-size="11.8" text-anchor="start" fill="#1a1a1a" >1 V</text>
<path d="M615.8,274.8 H644.1" stroke="#a9cbe8" stroke-width="1.1"/>
<text x="647.8" y="279.1" font-size="11.8" text-anchor="start" fill="#1a1a1a" >2 V</text>
<path d="M615.8,290.3 H644.1" stroke="#dde8f3" stroke-width="1.1"/>
<text x="647.8" y="294.6" font-size="11.8" text-anchor="start" fill="#1a1a1a" >3 V</text>
<path d="M615.8,305.8 H644.1" stroke="#f8c4b4" stroke-width="1.1"/>
<text x="647.8" y="310.1" font-size="11.8" text-anchor="start" fill="#1a1a1a" >4 V</text>
<path d="M615.8,321.3 H644.1" stroke="#ef7f6a" stroke-width="1.1"/>
<text x="647.8" y="325.6" font-size="11.8" text-anchor="start" fill="#1a1a1a" >5 V</text>
<text x="2.5" y="471.8" font-size="17" text-anchor="start" fill="#000" >f</text>
<path d="M39.2,471.2 H226.8" stroke="#7d7d7d" stroke-width="1"/>
<text x="57.96" y="636" font-size="10" text-anchor="middle" fill="#1a1a1a" >1</text>
<text x="95.48" y="636" font-size="10" text-anchor="middle" fill="#1a1a1a" >2</text>
<text x="133" y="636" font-size="10" text-anchor="middle" fill="#1a1a1a" >3</text>
<text x="170.52" y="636" font-size="10" text-anchor="middle" fill="#1a1a1a" >4</text>
<text x="208.04" y="636" font-size="10" text-anchor="middle" fill="#1a1a1a" >5</text>
<path d="M39.2,622.8 H226.8 M57.96,622.8 V625.8 M95.48,622.8 V625.8 M133,622.8 V625.8 M170.52,622.8 V625.8 M208.04,622.8 V625.8 M76.72,622.8 V624.8 M114.24,622.8 V624.8 M151.76,622.8 V624.8 M189.28,622.8 V624.8" stroke="#7d7d7d" stroke-width="1" fill="none"/>
<text x="33.7" y="626.3" font-size="10" text-anchor="end" fill="#3f88cf" >0</text>
<text x="33.7" y="604.64" font-size="10" text-anchor="end" fill="#3f88cf" >1</text>
<text x="33.7" y="582.99" font-size="10" text-anchor="end" fill="#3f88cf" >2</text>
<text x="33.7" y="561.33" font-size="10" text-anchor="end" fill="#3f88cf" >3</text>
<text x="33.7" y="539.67" font-size="10" text-anchor="end" fill="#3f88cf" >4</text>
<text x="33.7" y="518.01" font-size="10" text-anchor="end" fill="#3f88cf" >5</text>
<text x="33.7" y="496.36" font-size="10" text-anchor="end" fill="#3f88cf" >6</text>
<text x="33.7" y="474.7" font-size="10" text-anchor="end" fill="#3f88cf" >7</text>
<path d="M39.2,471.2 V622.8 M36.2,622.8 H39.2 M37.2,611.97 H39.2 M36.2,601.14 H39.2 M37.2,590.31 H39.2 M36.2,579.49 H39.2 M37.2,568.66 H39.2 M36.2,557.83 H39.2 M37.2,547 H39.2 M36.2,536.17 H39.2 M37.2,525.34 H39.2 M36.2,514.51 H39.2 M37.2,503.69 H39.2 M36.2,492.86 H39.2 M37.2,482.03 H39.2 M36.2,471.2 H39.2" stroke="#6fa6dc" stroke-width="1" fill="none"/>
<text x="230.6" y="611" font-size="10" text-anchor="start" fill="#f4846c" >0.00</text>
<text x="230.6" y="580.55" font-size="10" text-anchor="start" fill="#f4846c" >0.05</text>
<text x="230.6" y="550.1" font-size="10" text-anchor="start" fill="#f4846c" >0.10</text>
<text x="230.6" y="519.65" font-size="10" text-anchor="start" fill="#f4846c" >0.15</text>
<text x="230.6" y="489.2" font-size="10" text-anchor="start" fill="#f4846c" >0.20</text>
<path d="M226.8,471.2 V622.8 M226.8,607.5 H229.8 M226.8,577.05 H229.8 M226.8,546.6 H229.8 M226.8,516.15 H229.8 M226.8,485.7 H229.8 M226.8,622.73 H228.8 M226.8,592.27 H228.8 M226.8,561.83 H228.8 M226.8,531.38 H228.8 M226.8,500.92 H228.8" stroke="#f6a593" stroke-width="1" fill="none"/>
<text x="133" y="652.2" font-size="11.5" text-anchor="middle" fill="#1a1a1a" >Applied Voltage (V)</text>
<text transform="translate(23.8,547.5) rotate(-90)" font-size="11.5" text-anchor="middle" fill="#1a1a1a">Membrane Charge Density (mC/cm<tspan font-size="7.5" dy="-4.5">2</tspan><tspan dy="4.5">)</tspan></text>
<text transform="translate(262.2,547.1) rotate(-90)" font-size="11.5" text-anchor="middle" fill="#1a1a1a">Leakage Current (mA)</text>
<polyline points="57.96,593.52 61.71,587.8 65.46,582.26 69.22,576.88 72.97,571.67 76.72,566.63 80.47,561.76 84.22,557.06 87.98,552.53 91.73,548.16 95.48,543.97 99.23,539.94 102.98,536.08 106.74,532.4 110.49,528.88 114.24,525.53 117.99,522.35 121.74,519.33 125.5,516.49 129.25,513.81 133,511.31 136.75,508.97 140.5,506.8 144.26,504.81 148.01,502.98 151.76,501.31 155.51,499.82 159.26,498.5 163.02,497.34 166.77,496.36 170.52,495.54 174.27,494.9 178.02,494.42 181.78,494.11 185.53,493.97 189.28,493.99 193.03,494.19 196.78,494.56 200.54,495.09 204.29,495.8 208.04,496.67" fill="none" stroke="#4a8fd4" stroke-width="1" stroke-dasharray="1.3,1.6"/>
<path d="M57.96,600.19 L208.04,485.7" stroke="#f58d74" stroke-width="1" stroke-dasharray="1.3,1.6"/>
<path d="M91.48,531.62 H75" stroke="#2e6db4" stroke-width="1.1"/>
<path d="M70.5,531.62 l6.5,-2.3 v4.6 Z" fill="#2e6db4"/>
<path d="M174.52,516.76 H189" stroke="#f0694d" stroke-width="1.1"/>
<path d="M195,516.76 l-6.5,-2.3 v4.6 Z" fill="#f0694d"/>
<circle cx="57.96" cy="597.89" r="5.6" fill="url(#gb)"/>
<circle cx="95.48" cy="531.62" r="5.6" fill="url(#gb)"/>
<circle cx="133" cy="522.09" r="5.6" fill="url(#gb)"/>
<circle cx="170.52" cy="493.51" r="5.6" fill="url(#gb)"/>
<circle cx="208.04" cy="495.89" r="5.6" fill="url(#gb)"/>
<circle cx="57.96" cy="598.97" r="5.6" fill="url(#gr)"/>
<circle cx="95.48" cy="577.05" r="5.6" fill="url(#gr)"/>
<circle cx="133" cy="547.21" r="5.6" fill="url(#gr)"/>
<circle cx="170.52" cy="516.76" r="5.6" fill="url(#gr)"/>
<circle cx="208.04" cy="485.7" r="5.6" fill="url(#gr)"/>
<text x="-0.5" y="241.9" font-size="18" text-anchor="start" fill="#000" >d</text>
<path d="M58.2,304.6 L105.6,258.8 L105.6,340.7 L58.2,386.6 Z" fill="#fbcdbb" stroke="#fbcdbb" stroke-width="8" stroke-linejoin="round" filter="url(#glow)"/>
<path d="M111.6,304.8 L159.3,258.7 L159.3,340.7 L111.6,386.6 Z" fill="#fbcdbb" stroke="#fbcdbb" stroke-width="8" stroke-linejoin="round" filter="url(#glow)"/>
<path d="M58.2,304.6 L105.6,258.8 L105.6,340.7 L58.2,386.6 Z" fill="#bababa"/>
<path d="M59,386.1 L59,304.9 L105.6,259.8" fill="none" stroke="#e6e6e6" stroke-width="1.6"/>
<path d="M111.6,304.8 L159.3,258.7 L159.3,340.7 L111.6,386.6 Z" fill="#bababa"/>
<path d="M112.4,386.1 L112.4,305.1 L159.3,259.7" fill="none" stroke="#e6e6e6" stroke-width="1.6"/>
<path d="M95.1,262.3 h2.6 M86.5,269.8 h2.6 M78.3,278 h2.6 M70.3,285.8 h2.6 M62.5,293.8 h2.6 M54.7,303.3 h2.6 M51.9,317.4 h2.6 M51.9,332.4 h2.6 M51.9,343.4 h2.6 M51.9,354.3 h2.6 M51.9,364.4 h2.6 M51.9,374.7 h2.6 M51.9,385.2 h2.6" stroke="#222" stroke-width="1.1"/>
<path d="M149.4,271.3 h5 M151.9,268.8 v5 M141.6,280.1 h5 M144.1,277.6 v5 M133.8,287.8 h5 M136.3,285.3 v5 M125.8,295.5 h5 M128.3,293 v5 M117.7,305.4 h5 M120.2,302.9 v5 M114.6,319.2 h5 M117.1,316.7 v5 M114.6,334.3 h5 M117.1,331.8 v5 M114.6,345 h5 M117.1,342.5 v5 M114.6,355.4 h5 M117.1,352.9 v5 M114.6,365.3 h5 M117.1,362.8 v5 M114.6,376.1 h5 M117.1,373.6 v5" stroke="#111" stroke-width="0.95"/>
<path d="M123,265.5 H142.3" stroke="#f8b800" stroke-width="1.9"/>
<path d="M118,265.5 l7,-3.6 v7.2 Z" fill="#f8b800"/>
<path d="M101.6,287.8 H119.8" stroke="#f8b800" stroke-width="1.9"/>
<path d="M96.6,287.8 l7,-3.6 v7.2 Z" fill="#f8b800"/>
<path d="M81.7,306.9 H99.4" stroke="#f8b800" stroke-width="1.9"/>
<path d="M76.7,306.9 l7,-3.6 v7.2 Z" fill="#f8b800"/>
<path d="M81.9,331 H99.6" stroke="#f8b800" stroke-width="1.9"/>
<path d="M76.9,331 l7,-3.6 v7.2 Z" fill="#f8b800"/>
<path d="M81.9,355.3 H99.6" stroke="#f8b800" stroke-width="1.9"/>
<path d="M76.9,355.3 l7,-3.6 v7.2 Z" fill="#f8b800"/>
<path d="M81.9,379.4 H99.6" stroke="#f8b800" stroke-width="1.9"/>
<path d="M76.9,379.4 l7,-3.6 v7.2 Z" fill="#f8b800"/>
<text x="109.6" y="284" font-size="15.5" text-anchor="start" fill="#f8b800" >E</text>
<path d="M38.8,323.6 V406.5 M166.2,323.6 V406.5" stroke="#000" stroke-width="2.4"/>
<path d="M38.8,323.6 H50" stroke="#000" stroke-width="3"/>
<path d="M50,323.6 H57" stroke="#5a3a30" stroke-width="3"/>
<path d="M138.4,323.6 H166" stroke="#000" stroke-width="3"/>
<circle cx="38.8" cy="323.6" r="4.4" fill="#000"/><circle cx="166.2" cy="323.6" r="4.4" fill="#000"/>
<path d="M41,398 H93 M115.4,398 H164" stroke="#000" stroke-width="1.3"/>
<path d="M40.5,398 l6,-2.3 v4.6 Z M164.5,398 l-6,-2.3 v4.6 Z" fill="#000"/>
<text x="102.8" y="404.3" font-size="15.5" text-anchor="middle" fill="#000" >V</text>
<path d="M159.4,257.5 L186,234 M112,391 L189.4,432.4" stroke="#f26b50" stroke-width="1.1"/>
<path d="M346,271 Q364,262 382,267 Q386,285 384,301 Q380,308 371,306 Q357,303 351,291 Q344,281 346,271 Z" fill="#c8c8c8" filter="url(#soft)"/>
<path d="M337,284 Q352,296 350,312 Q347,323 338,324 Q328,326 322,323 Q325,300 337,284 Z" fill="#c8c8c8" filter="url(#soft)"/>
<path d="M364,324 Q378,322 388,329 Q393,340 390,349 Q380,351 370,344 Q362,334 364,324 Z" fill="#c8c8c8" filter="url(#soft)"/>
<path d="M325,346 Q340,343 354,349 Q358,360 352,366 Q338,368 327,362 Q322,354 325,346 Z" fill="#c8c8c8" filter="url(#soft)"/>
<path d="M314,384 Q330,375 350,378 Q369,384 368,401 Q365,417 346,419 Q324,419 313,406 Q307,394 314,384 Z" fill="#c8c8c8" filter="url(#soft)"/>
<path d="M372,357 Q385,358 395,370 Q402,385 400,408 Q392,413 385,410 Q377,392 373,376 Q369,365 372,357 Z" fill="#c8c8c8" filter="url(#soft)"/>
<rect x="185.6" y="226.4" width="99.2" height="208.9" rx="13" ry="13" fill="none" stroke="#f26b50" stroke-width="1.8" stroke-dasharray="7,5"/>
<rect x="292.8" y="226.8" width="45.5" height="208.4" rx="7" ry="7" fill="none" stroke="#f26b50" stroke-width="1.8" stroke-dasharray="7,5"/>
<text x="235.5" y="239.2" font-size="10.5" text-anchor="middle" fill="#f26b50" >Barrier 1:</text>
<text x="235.5" y="251.6" font-size="10.5" text-anchor="middle" fill="#f26b50" >Ion Migration</text>
<text x="316.3" y="238.6" font-size="9.6" text-anchor="middle" fill="#f26b50" >Barrier 2:</text>
<text x="316.3" y="249.9" font-size="9.6" text-anchor="middle" fill="#f26b50" >Donnan-</text>
<text x="316.3" y="261.2" font-size="9.6" text-anchor="middle" fill="#f26b50" >like</text>
<text x="316.3" y="272.5" font-size="9.6" text-anchor="middle" fill="#f26b50" >Effect</text>
<circle cx="197.6" cy="329.9" r="7.1" fill="url(#gcl)"/>
<text x="197.3" y="332.4" font-size="8.2" text-anchor="middle" fill="#fff" fill-opacity="0.88">Cl<tspan font-size="5.8" dy="-3">-</tspan></text>
<circle cx="265.7" cy="340" r="7.1" fill="url(#gcl)"/>
<text x="265.4" y="342.5" font-size="8.2" text-anchor="middle" fill="#fff" fill-opacity="0.88">Cl<tspan font-size="5.8" dy="-3">-</tspan></text>
<circle cx="277.1" cy="386.3" r="7.1" fill="url(#gcl)"/>
<text x="276.8" y="388.8" font-size="8.2" text-anchor="middle" fill="#fff" fill-opacity="0.88">Cl<tspan font-size="5.8" dy="-3">-</tspan></text>
<circle cx="203.3" cy="406" r="7.1" fill="url(#gcl)"/>
<text x="203" y="408.5" font-size="8.2" text-anchor="middle" fill="#fff" fill-opacity="0.88">Cl<tspan font-size="5.8" dy="-3">-</tspan></text>
<circle cx="342.3" cy="280.5" r="7.1" fill="url(#gcl)"/>
<text x="342" y="283" font-size="8.2" text-anchor="middle" fill="#fff" fill-opacity="0.88">Cl<tspan font-size="5.8" dy="-3">-</tspan></text>
<circle cx="318.2" cy="301.7" r="7.1" fill="url(#gcl)"/>
<text x="317.9" y="304.2" font-size="8.2" text-anchor="middle" fill="#fff" fill-opacity="0.88">Cl<tspan font-size="5.8" dy="-3">-</tspan></text>
<circle cx="352.6" cy="300.3" r="7.1" fill="url(#gcl)"/>
<text x="352.3" y="302.8" font-size="8.2" text-anchor="middle" fill="#fff" fill-opacity="0.88">Cl<tspan font-size="5.8" dy="-3">-</tspan></text>
<circle cx="312.4" cy="317.8" r="7.1" fill="url(#gcl)"/>
<text x="312.1" y="320.3" font-size="8.2" text-anchor="middle" fill="#fff" fill-opacity="0.88">Cl<tspan font-size="5.8" dy="-3">-</tspan></text>
<circle cx="370.8" cy="313.4" r="7.1" fill="url(#gcl)"/>
<text x="370.5" y="315.9" font-size="8.2" text-anchor="middle" fill="#fff" fill-opacity="0.88">Cl<tspan font-size="5.8" dy="-3">-</tspan></text>
<circle cx="356.9" cy="321.4" r="7.1" fill="url(#gcl)"/>
<text x="356.6" y="323.9" font-size="8.2" text-anchor="middle" fill="#fff" fill-opacity="0.88">Cl<tspan font-size="5.8" dy="-3">-</tspan></text>
<circle cx="324.8" cy="333.8" r="7.1" fill="url(#gcl)"/>
<text x="324.5" y="336.3" font-size="8.2" text-anchor="middle" fill="#fff" fill-opacity="0.88">Cl<tspan font-size="5.8" dy="-3">-</tspan></text>
<circle cx="348.9" cy="336.8" r="7.1" fill="url(#gcl)"/>
<text x="348.6" y="339.3" font-size="8.2" text-anchor="middle" fill="#fff" fill-opacity="0.88">Cl<tspan font-size="5.8" dy="-3">-</tspan></text>
<circle cx="314.1" cy="352" r="7.1" fill="url(#gcl)"/>
<text x="313.8" y="354.5" font-size="8.2" text-anchor="middle" fill="#fff" fill-opacity="0.88">Cl<tspan font-size="5.8" dy="-3">-</tspan></text>
<circle cx="363.1" cy="354.5" r="7.1" fill="url(#gcl)"/>
<text x="362.8" y="357" font-size="8.2" text-anchor="middle" fill="#fff" fill-opacity="0.88">Cl<tspan font-size="5.8" dy="-3">-</tspan></text>
<circle cx="306.1" cy="372.1" r="7.1" fill="url(#gcl)"/>
<text x="305.8" y="374.6" font-size="8.2" text-anchor="middle" fill="#fff" fill-opacity="0.88">Cl<tspan font-size="5.8" dy="-3">-</tspan></text>
<circle cx="349.4" cy="377.7" r="7.1" fill="url(#gcl)"/>
<text x="349.1" y="380.2" font-size="8.2" text-anchor="middle" fill="#fff" fill-opacity="0.88">Cl<tspan font-size="5.8" dy="-3">-</tspan></text>
<circle cx="304.1" cy="389" r="7.1" fill="url(#gcl)"/>
<text x="303.8" y="391.5" font-size="8.2" text-anchor="middle" fill="#fff" fill-opacity="0.88">Cl<tspan font-size="5.8" dy="-3">-</tspan></text>
<circle cx="370.3" cy="385" r="7.1" fill="url(#gcl)"/>
<text x="370" y="387.5" font-size="8.2" text-anchor="middle" fill="#fff" fill-opacity="0.88">Cl<tspan font-size="5.8" dy="-3">-</tspan></text>
<circle cx="371.9" cy="403" r="7.1" fill="url(#gcl)"/>
<text x="371.6" y="405.5" font-size="8.2" text-anchor="middle" fill="#fff" fill-opacity="0.88">Cl<tspan font-size="5.8" dy="-3">-</tspan></text>
<circle cx="309" cy="409.9" r="7.1" fill="url(#gcl)"/>
<text x="308.7" y="412.4" font-size="8.2" text-anchor="middle" fill="#fff" fill-opacity="0.88">Cl<tspan font-size="5.8" dy="-3">-</tspan></text>
<circle cx="329.3" cy="423.2" r="7.1" fill="url(#gcl)"/>
<text x="329" y="425.7" font-size="8.2" text-anchor="middle" fill="#fff" fill-opacity="0.88">Cl<tspan font-size="5.8" dy="-3">-</tspan></text>
<path d="M353.2,269.3 h4.6 M355.5,267 v4.6 M363.4,268.4 h4.6 M365.7,266.1 v4.6 M371.4,268.4 h4.6 M373.7,266.1 v4.6 M379.5,273.2 h4.6 M381.8,270.9 v4.6 M380.6,280.1 h4.6 M382.9,277.8 v4.6 M380.9,288.9 h4.6 M383.2,286.6 v4.6 M380.2,295.6 h4.6 M382.5,293.3 v4.6 M379.5,303.2 h4.6 M381.8,300.9 v4.6 M372.9,306.1 h4.6 M375.2,303.8 v4.6 M365.6,304.9 h4.6 M367.9,302.6 v4.6 M359,298.1 h4.6 M361.3,295.8 v4.6 M353.9,290 h4.6 M356.2,287.7 v4.6 M348.8,282 h4.6 M351.1,279.7 v4.6 M344.4,273.2 h4.6 M346.7,270.9 v4.6 M330.5,286.4 h4.6 M332.8,284.1 v4.6 M326.2,297.6 h4.6 M328.5,295.3 v4.6 M340,296.6 h4.6 M342.3,294.3 v4.6 M324,309.7 h4.6 M326.3,307.4 v4.6 M344.4,306.1 h4.6 M346.7,303.8 v4.6 M343,318.1 h4.6 M345.3,315.8 v4.6 M321.8,323.3 h4.6 M324.1,321 v4.6 M333.9,322.4 h4.6 M336.2,320.1 v4.6 M375.1,322.2 h4.6 M377.4,319.9 v4.6 M382.4,326.5 h4.6 M384.7,324.2 v4.6 M367.8,327.3 h4.6 M370.1,325 v4.6 M360.5,331.6 h4.6 M362.8,329.3 v4.6 M369.2,339.4 h4.6 M371.5,337.1 v4.6 M386,337.5 h4.6 M388.3,335.2 v4.6 M377.7,342.6 h4.6 M380,340.3 v4.6 M324.6,348.8 h4.6 M326.9,346.5 v4.6 M329.8,346.7 h4.6 M332.1,344.4 v4.6 M339.9,347.2 h4.6 M342.2,344.9 v4.6 M350.3,351.6 h4.6 M352.6,349.3 v4.6 M323.8,357.3 h4.6 M326.1,355 v4.6 M339.9,365.4 h4.6 M342.2,363.1 v4.6 M345.5,365.4 h4.6 M347.8,363.1 v4.6 M351.1,362.5 h4.6 M353.4,360.2 v4.6 M374.4,360.1 h4.6 M376.7,357.8 v4.6 M370.4,366.5 h4.6 M372.7,364.2 v4.6 M382.4,365.7 h4.6 M384.7,363.4 v4.6 M391.3,370.2 h4.6 M393.6,367.9 v4.6 M372,374.5 h4.6 M374.3,372.2 v4.6 M378.4,382.1 h4.6 M380.7,379.8 v4.6 M382.4,390.6 h4.6 M384.7,388.3 v4.6 M384.1,400.7 h4.6 M386.4,398.4 v4.6 M383.3,411.5 h4.6 M385.6,409.2 v4.6 M392.1,411.9 h4.6 M394.4,409.6 v4.6 M396.9,407.4 h4.6 M399.2,405.1 v4.6 M317.4,384.2 h4.6 M319.7,381.9 v4.6 M338.3,383.4 h4.6 M340.6,381.1 v4.6 M347.9,386.9 h4.6 M350.2,384.6 v4.6 M358.4,388.2 h4.6 M360.7,385.9 v4.6 M362.4,395.4 h4.6 M364.7,393.1 v4.6 M313.4,392.7 h4.6 M315.7,390.4 v4.6 M317.4,405 h4.6 M319.7,402.7 v4.6 M324.3,408.3 h4.6 M326.6,406 v4.6 M332.7,413.1 h4.6 M335,410.8 v4.6 M342.3,415.8 h4.6 M344.6,413.5 v4.6 M350.7,416.8 h4.6 M353,414.5 v4.6 M359.2,413.1 h4.6 M361.5,410.8 v4.6 M361.9,404.6 h4.6 M364.2,402.3 v4.6" stroke="#111" stroke-width="1"/>
<path d="M191.4,274.3 H201.4" stroke="#f8b800" stroke-width="4.4"/>
<path d="M186.4,274.3 l5.6,-7 v14 Z" fill="#f8b800"/>
<circle cx="207.4" cy="274.3" r="10.6" fill="url(#gmb)"/>
<text x="207.2" y="277.5" font-size="8.6" text-anchor="middle" fill="#fff" fill-opacity="0.92" letter-spacing="-0.4">MB<tspan font-size="6" dy="-3">+</tspan></text>
<path d="M231.5,312 H241.4" stroke="#f8b800" stroke-width="4.4"/>
<path d="M226.5,312 l5.6,-7 v14 Z" fill="#f8b800"/>
<circle cx="247.4" cy="312" r="10.6" fill="url(#gmb)"/>
<text x="247.2" y="315.2" font-size="8.6" text-anchor="middle" fill="#fff" fill-opacity="0.92" letter-spacing="-0.4">MB<tspan font-size="6" dy="-3">+</tspan></text>
<path d="M214.4,364.8 H224.4" stroke="#f8b800" stroke-width="4.4"/>
<path d="M209.4,364.8 l5.6,-7 v14 Z" fill="#f8b800"/>
<circle cx="230.4" cy="364.8" r="10.6" fill="url(#gmb)"/>
<text x="230.2" y="368" font-size="8.6" text-anchor="middle" fill="#fff" fill-opacity="0.92" letter-spacing="-0.4">MB<tspan font-size="6" dy="-3">+</tspan></text>
<path d="M225.5,416.3 H235.5" stroke="#f8b800" stroke-width="4.4"/>
<path d="M220.5,416.3 l5.6,-7 v14 Z" fill="#f8b800"/>
<circle cx="241.5" cy="416.3" r="10.6" fill="url(#gmb)"/>
<text x="241.3" y="419.5" font-size="8.6" text-anchor="middle" fill="#fff" fill-opacity="0.92" letter-spacing="-0.4">MB<tspan font-size="6" dy="-3">+</tspan></text>
<path d="M286.8,291 H296.8" stroke="#f8b800" stroke-width="4.4"/>
<path d="M281.8,291 l5.6,-7 v14 Z" fill="#f8b800"/>
<circle cx="302.8" cy="291" r="10.6" fill="url(#gmb)"/>
<text x="302.6" y="294.2" font-size="8.6" text-anchor="middle" fill="#fff" fill-opacity="0.92" letter-spacing="-0.4">MB<tspan font-size="6" dy="-3">+</tspan></text>
<path d="M311.3,373.7 H321.3" stroke="#f8b800" stroke-width="4.4"/>
<path d="M306.3,373.7 l5.6,-7 v14 Z" fill="#f8b800"/>
<circle cx="327.3" cy="373.7" r="10.6" fill="url(#gmb)"/>
<text x="327.1" y="376.9" font-size="8.6" text-anchor="middle" fill="#fff" fill-opacity="0.92" letter-spacing="-0.4">MB<tspan font-size="6" dy="-3">+</tspan></text>
<text x="279.5" y="472.6" font-size="18.5" text-anchor="start" fill="#000" >g</text>
<text x="327.4" y="492.2" font-size="10" text-anchor="middle" fill="#111" >CIP</text>
<text x="328" y="571.3" font-size="10" text-anchor="middle" fill="#111" >SSIP</text>
<ellipse cx="0" cy="0" rx="3.4" ry="8.6" fill="#f7b500" transform="translate(318.6,498.8) rotate(-20)"/>
<ellipse cx="0" cy="0" rx="3.4" ry="8.6" fill="#f7b500" transform="translate(335.2,499) rotate(57)"/>
<ellipse cx="0" cy="0" rx="3.4" ry="8.6" fill="#f7b500" transform="translate(308.1,514.1) rotate(85)"/>
<ellipse cx="0" cy="0" rx="3.4" ry="8.6" fill="#f7b500" transform="translate(315.2,529) rotate(25)"/>
<ellipse cx="0" cy="0" rx="3.4" ry="8.6" fill="#f7b500" transform="translate(354,514.1) rotate(-7)"/>
<ellipse cx="0" cy="0" rx="3.4" ry="8.6" fill="#f7b500" transform="translate(304.9,573.8) rotate(-7)"/>
<ellipse cx="0" cy="0" rx="3.4" ry="8.6" fill="#f7b500" transform="translate(323,587) rotate(53)"/>
<ellipse cx="0" cy="0" rx="3.4" ry="8.6" fill="#f7b500" transform="translate(294.6,593) rotate(87)"/>
<ellipse cx="0" cy="0" rx="3.4" ry="8.6" fill="#f7b500" transform="translate(304.9,606.3) rotate(25)"/>
<ellipse cx="0" cy="0" rx="3.4" ry="8.6" fill="#f7b500" transform="translate(323,601.6) rotate(-53)"/>
<ellipse cx="0" cy="0" rx="3.4" ry="8.6" fill="#f7b500" transform="translate(353.3,569.1) rotate(72)"/>
<ellipse cx="0" cy="0" rx="3.4" ry="8.6" fill="#f7b500" transform="translate(344.8,590) rotate(-8)"/>
<ellipse cx="0" cy="0" rx="3.4" ry="8.6" fill="#f7b500" transform="translate(369.5,593.5) rotate(-8)"/>
<ellipse cx="0" cy="0" rx="3.4" ry="8.6" fill="#f7b500" transform="translate(351.8,610) rotate(-55)"/>
<ellipse cx="0" cy="0" rx="7.8" ry="17" fill="url(#gion)" transform="translate(338.6,520.5) rotate(18)"/>
<path d="M334.6,521.5 h8 M338.6,517.5 v8" stroke="#111" stroke-width="1.3"/>
<ellipse cx="0" cy="0" rx="7.8" ry="17" fill="url(#gion)" transform="translate(357.2,589.4) rotate(-4)"/>
<path d="M353.2,590.4 h8 M357.2,586.4 v8" stroke="#111" stroke-width="1.3"/>
<circle cx="324.1" cy="513.7" r="4.7" fill="url(#gneg)"/>
<path d="M321.9,513.7 h4.4" stroke="#fff" stroke-width="1.3"/>
<circle cx="308.1" cy="589.2" r="4.7" fill="url(#gneg)"/>
<path d="M305.9,589.2 h4.4" stroke="#fff" stroke-width="1.3"/>
<path d="M324.2,545.8 h9.4 v5.8 h2.6 l-7.3,6.5 l-7.3,-6.5 h2.6 Z" fill="#000"/>
<text x="404.8" y="472.4" font-size="18" text-anchor="start" fill="#000" >h</text>
<g opacity="0.75">
<path d="M505.3,554.2 L512,557.1" stroke="#b4b4b4" stroke-width="1.5"/>
<path d="M505.3,554.2 L493,554" stroke="#b4b4b4" stroke-width="1.5"/>
<path d="M505.3,554.2 L514,549.5" stroke="#b4b4b4" stroke-width="1.5"/>
<path d="M512.9,569.4 L498.6,573.2" stroke="#b4b4b4" stroke-width="1.5"/>
<path d="M512.9,569.4 L515.8,577" stroke="#b4b4b4" stroke-width="1.5"/>
<path d="M505.3,554.2 L497,560" stroke="#b4b4b4" stroke-width="1.5"/>
<circle cx="505.3" cy="554.2" r="5.2" fill="url(#gC)"/>
<circle cx="512.9" cy="569.4" r="5.3" fill="url(#gO)"/>
<circle cx="512" cy="557.1" r="5.3" fill="url(#gO)"/>
<circle cx="493" cy="554" r="3.5" fill="url(#gH)"/>
<circle cx="498.6" cy="573.2" r="3.5" fill="url(#gH)"/>
<circle cx="514" cy="549.5" r="3.5" fill="url(#gH)"/>
<circle cx="515.8" cy="577" r="3.5" fill="url(#gH)"/>
<circle cx="497" cy="560" r="3.5" fill="url(#gH)"/>
</g>
<g opacity="0.75">
<path d="M479.7,596.9 L481.6,604.5" stroke="#b4b4b4" stroke-width="1.5"/>
<path d="M479.7,596.9 L466.4,593.2" stroke="#b4b4b4" stroke-width="1.5"/>
<path d="M479.7,596.9 L484,590" stroke="#b4b4b4" stroke-width="1.5"/>
<path d="M481.6,604.5 L479.7,613.1" stroke="#b4b4b4" stroke-width="1.5"/>
<path d="M481.6,604.5 L474,609.3" stroke="#b4b4b4" stroke-width="1.5"/>
<path d="M499.6,602.6 L493,600.7" stroke="#b4b4b4" stroke-width="1.5"/>
<path d="M499.6,602.6 L506.3,597.9" stroke="#b4b4b4" stroke-width="1.5"/>
<circle cx="479.7" cy="596.9" r="5.2" fill="url(#gC)"/>
<circle cx="481.6" cy="604.5" r="5.3" fill="url(#gO)"/>
<circle cx="499.6" cy="602.6" r="5.3" fill="url(#gO)"/>
<circle cx="466.4" cy="593.2" r="3.5" fill="url(#gH)"/>
<circle cx="493" cy="600.7" r="3.5" fill="url(#gH)"/>
<circle cx="506.3" cy="597.9" r="3.5" fill="url(#gH)"/>
<circle cx="479.7" cy="613.1" r="3.5" fill="url(#gH)"/>
<circle cx="474" cy="609.3" r="3.5" fill="url(#gH)"/>
<circle cx="484" cy="590" r="3.5" fill="url(#gH)"/>
</g>
<g>
<path d="M460.85,509.48 L477.55,515.58" stroke="#a8a8a8" stroke-width="1.2"/>
<path d="M459.95,511.92 L476.65,518.02" stroke="#a8a8a8" stroke-width="1.2"/>
<path d="M477.1,516.8 L478.8,534.3" stroke="#b4b4b4" stroke-width="1.5"/>
<path d="M479.58,535.34 L466.28,545.24" stroke="#a8a8a8" stroke-width="1.2"/>
<path d="M478.02,533.26 L464.72,543.16" stroke="#a8a8a8" stroke-width="1.2"/>
<path d="M465.5,544.2 L449.1,537.8" stroke="#b4b4b4" stroke-width="1.5"/>
<path d="M447.81,537.93 L446.01,520.43" stroke="#a8a8a8" stroke-width="1.2"/>
<path d="M450.39,537.67 L448.59,520.17" stroke="#a8a8a8" stroke-width="1.2"/>
<path d="M447.3,520.3 L460.4,510.7" stroke="#b4b4b4" stroke-width="1.5"/>
<path d="M476.36,515.73 L490.36,506.13" stroke="#a8a8a8" stroke-width="1.2"/>
<path d="M477.84,517.87 L491.84,508.27" stroke="#a8a8a8" stroke-width="1.2"/>
<path d="M491.1,507.2 L489.3,487.9" stroke="#b4b4b4" stroke-width="1.5"/>
<path d="M491.1,507.2 L507.7,513.3" stroke="#b4b4b4" stroke-width="1.5"/>
<path d="M460.4,510.7 L459.6,496.6" stroke="#b4b4b4" stroke-width="1.5"/>
<path d="M447.3,520.3 L435,515.9" stroke="#b4b4b4" stroke-width="1.5"/>
<path d="M489.3,487.9 L482.3,483.5" stroke="#b4b4b4" stroke-width="1.5"/>
<path d="M489.3,487.9 L501.6,482.6" stroke="#b4b4b4" stroke-width="1.5"/>
<path d="M507.7,513.3 L516.5,503.7" stroke="#b4b4b4" stroke-width="1.5"/>
<path d="M507.7,513.3 L509.5,521.5" stroke="#b4b4b4" stroke-width="1.5"/>
<path d="M478.8,534.3 L491.1,540.4" stroke="#b4b4b4" stroke-width="1.5"/>
<path d="M449.1,537.8 L435.1,547.4" stroke="#b4b4b4" stroke-width="1.5"/>
<path d="M465.5,544.2 L469.3,566.6" stroke="#b4b4b4" stroke-width="1.5"/>
<path d="M436.4,547.47 L435.5,563.77" stroke="#a8a8a8" stroke-width="1.2"/>
<path d="M433.8,547.33 L432.9,563.63" stroke="#a8a8a8" stroke-width="1.2"/>
<path d="M469.3,566.6 L448.4,574.2" stroke="#b4b4b4" stroke-width="1.5"/>
<path d="M434.78,564.86 L419.58,572.46" stroke="#a8a8a8" stroke-width="1.2"/>
<path d="M433.62,562.54 L418.42,570.14" stroke="#a8a8a8" stroke-width="1.2"/>
<path d="M419,571.3 L418,588.4" stroke="#b4b4b4" stroke-width="1.5"/>
<path d="M418.85,587.41 L432.15,598.81" stroke="#a8a8a8" stroke-width="1.2"/>
<path d="M417.15,589.39 L430.45,600.79" stroke="#a8a8a8" stroke-width="1.2"/>
<path d="M431.3,599.8 L447.4,591.2" stroke="#b4b4b4" stroke-width="1.5"/>
<path d="M446.1,591.12 L447.1,574.12" stroke="#a8a8a8" stroke-width="1.2"/>
<path d="M448.7,591.28 L449.7,574.28" stroke="#a8a8a8" stroke-width="1.2"/>
<path d="M448.4,574.2 L434.2,563.7" stroke="#b4b4b4" stroke-width="1.5"/>
<path d="M419,571.3 L408.5,563.7" stroke="#b4b4b4" stroke-width="1.5"/>
<path d="M418,588.4 L405.7,594.1" stroke="#b4b4b4" stroke-width="1.5"/>
<path d="M447.4,591.2 L459.8,598.8" stroke="#b4b4b4" stroke-width="1.5"/>
<path d="M432.6,599.87 L431.7,615.97" stroke="#a8a8a8" stroke-width="1.2"/>
<path d="M430,599.73 L429.1,615.83" stroke="#a8a8a8" stroke-width="1.2"/>
<path d="M430.4,615.9 L413.3,623.5" stroke="#b4b4b4" stroke-width="1.5"/>
<path d="M430.4,615.9 L444.6,627.3" stroke="#b4b4b4" stroke-width="1.5"/>
<path d="M413.3,623.5 L405.7,618.8" stroke="#b4b4b4" stroke-width="1.5"/>
<path d="M413.3,623.5 L415.2,635.8" stroke="#b4b4b4" stroke-width="1.5"/>
<path d="M444.6,627.3 L455,622.6" stroke="#b4b4b4" stroke-width="1.5"/>
<path d="M444.6,627.3 L442.7,638.7" stroke="#b4b4b4" stroke-width="1.5"/>
<path d="M489.3,487.9 L485,490" stroke="#b4b4b4" stroke-width="1.5"/>
<circle cx="460.4" cy="510.7" r="5.2" fill="url(#gC)"/>
<circle cx="477.1" cy="516.8" r="5.2" fill="url(#gC)"/>
<circle cx="478.8" cy="534.3" r="5.2" fill="url(#gC)"/>
<circle cx="465.5" cy="544.2" r="5.2" fill="url(#gC)"/>
<circle cx="449.1" cy="537.8" r="5.2" fill="url(#gC)"/>
<circle cx="447.3" cy="520.3" r="5.2" fill="url(#gC)"/>
<circle cx="491.1" cy="507.2" r="5.2" fill="url(#gN)"/>
<circle cx="489.3" cy="487.9" r="5.2" fill="url(#gC)"/>
<circle cx="507.7" cy="513.3" r="5.2" fill="url(#gC)"/>
<circle cx="459.6" cy="496.6" r="3.5" fill="url(#gH)"/>
<circle cx="435" cy="515.9" r="3.5" fill="url(#gH)"/>
<circle cx="482.3" cy="483.5" r="3.5" fill="url(#gH)"/>
<circle cx="501.6" cy="482.6" r="3.5" fill="url(#gH)"/>
<circle cx="516.5" cy="503.7" r="3.5" fill="url(#gH)"/>
<circle cx="509.5" cy="521.5" r="3.5" fill="url(#gH)"/>
<circle cx="491.1" cy="540.4" r="3.5" fill="url(#gH)"/>
<circle cx="435.1" cy="547.4" r="5.2" fill="url(#gN)"/>
<circle cx="469.3" cy="566.6" r="5.8" fill="url(#gS)"/>
<circle cx="434.2" cy="563.7" r="5.2" fill="url(#gC)"/>
<circle cx="419" cy="571.3" r="5.2" fill="url(#gC)"/>
<circle cx="418" cy="588.4" r="5.2" fill="url(#gC)"/>
<circle cx="431.3" cy="599.8" r="5.2" fill="url(#gC)"/>
<circle cx="447.4" cy="591.2" r="5.2" fill="url(#gC)"/>
<circle cx="448.4" cy="574.2" r="5.2" fill="url(#gC)"/>
<circle cx="408.5" cy="563.7" r="3.5" fill="url(#gH)"/>
<circle cx="405.7" cy="594.1" r="3.5" fill="url(#gH)"/>
<circle cx="459.8" cy="598.8" r="3.5" fill="url(#gH)"/>
<circle cx="430.4" cy="615.9" r="5.2" fill="url(#gN)"/>
<circle cx="413.3" cy="623.5" r="5.2" fill="url(#gC)"/>
<circle cx="444.6" cy="627.3" r="5.2" fill="url(#gC)"/>
<circle cx="405.7" cy="618.8" r="3.5" fill="url(#gH)"/>
<circle cx="415.2" cy="635.8" r="3.5" fill="url(#gH)"/>
<circle cx="455" cy="622.6" r="3.5" fill="url(#gH)"/>
<circle cx="442.7" cy="638.7" r="3.5" fill="url(#gH)"/>
<circle cx="485" cy="490" r="3.5" fill="url(#gH)"/>
<circle cx="515.8" cy="592.2" r="5.9" fill="url(#gCl)"/>
</g>
<path d="M469.3,566.6 L515.8,592.2 M492.0,541.0 L515.8,592.2" stroke="#e8141a" stroke-width="1.3"/>
<text x="496.3" y="543.8" font-size="12.5" text-anchor="start" fill="#111" >4.65 &#197;</text>
<text transform="translate(467.0,580.8) rotate(31)" font-size="12.5" fill="#111">4.32 &#197;</text>
<g>
<path d="M587.27,515.81 L603.37,517.91" stroke="#a8a8a8" stroke-width="1.2"/>
<path d="M586.93,518.39 L603.03,520.49" stroke="#a8a8a8" stroke-width="1.2"/>
<path d="M603.2,519.2 L609.6,534.7" stroke="#b4b4b4" stroke-width="1.5"/>
<path d="M610.6,535.53 L600.2,548.13" stroke="#a8a8a8" stroke-width="1.2"/>
<path d="M608.6,533.87 L598.2,546.47" stroke="#a8a8a8" stroke-width="1.2"/>
<path d="M599.2,547.3 L582.3,544.9" stroke="#b4b4b4" stroke-width="1.5"/>
<path d="M581.08,545.34 L575.48,529.74" stroke="#a8a8a8" stroke-width="1.2"/>
<path d="M583.52,544.46 L577.92,528.86" stroke="#a8a8a8" stroke-width="1.2"/>
<path d="M576.7,529.3 L587.1,517.1" stroke="#b4b4b4" stroke-width="1.5"/>
<path d="M602.21,518.35 L612.61,506.25" stroke="#a8a8a8" stroke-width="1.2"/>
<path d="M604.19,520.05 L614.59,507.95" stroke="#a8a8a8" stroke-width="1.2"/>
<path d="M613.6,507.1 L608,491.1" stroke="#b4b4b4" stroke-width="1.5"/>
<path d="M613.6,507.1 L630.5,509.5" stroke="#b4b4b4" stroke-width="1.5"/>
<path d="M587.1,517.1 L582.3,504.7" stroke="#b4b4b4" stroke-width="1.5"/>
<path d="M576.7,529.3 L564.3,528" stroke="#b4b4b4" stroke-width="1.5"/>
<path d="M608,491.1 L600.8,487.5" stroke="#b4b4b4" stroke-width="1.5"/>
<path d="M608,491.1 L618.4,483" stroke="#b4b4b4" stroke-width="1.5"/>
<path d="M630.5,509.5 L636.9,498.3" stroke="#b4b4b4" stroke-width="1.5"/>
<path d="M630.5,509.5 L635.3,516" stroke="#b4b4b4" stroke-width="1.5"/>
<path d="M609.6,534.7 L620,538.5" stroke="#b4b4b4" stroke-width="1.5"/>
<path d="M582.3,544.9 L571.5,556.8" stroke="#b4b4b4" stroke-width="1.5"/>
<path d="M599.2,547.3 L607,565.8" stroke="#b4b4b4" stroke-width="1.5"/>
<path d="M572.77,556.53 L575.77,570.53" stroke="#a8a8a8" stroke-width="1.2"/>
<path d="M570.23,557.07 L573.23,571.07" stroke="#a8a8a8" stroke-width="1.2"/>
<path d="M575.35,571.79 L563.15,582.29" stroke="#a8a8a8" stroke-width="1.2"/>
<path d="M573.65,569.81 L561.45,580.31" stroke="#a8a8a8" stroke-width="1.2"/>
<path d="M562.3,581.3 L578,594.4" stroke="#b4b4b4" stroke-width="1.5"/>
<path d="M578,594.4 L592.9,592.7" stroke="#b4b4b4" stroke-width="1.5"/>
<path d="M592.9,592.7 L592.9,577.8" stroke="#b4b4b4" stroke-width="1.5"/>
<path d="M592.9,577.8 L582.4,577.8" stroke="#b4b4b4" stroke-width="1.5"/>
<path d="M582.4,577.8 L574.5,570.8" stroke="#b4b4b4" stroke-width="1.5"/>
<path d="M607,565.8 L592.9,577.8" stroke="#b4b4b4" stroke-width="1.5"/>
<path d="M562.3,581.3 L551.8,576" stroke="#b4b4b4" stroke-width="1.5"/>
<path d="M564.9,599.7 L578,594.4" stroke="#b4b4b4" stroke-width="1.5"/>
<path d="M578,594.4 L579.8,603.2" stroke="#b4b4b4" stroke-width="1.5"/>
<path d="M579.8,603.2 L590.3,604.1" stroke="#b4b4b4" stroke-width="1.5"/>
<path d="M590.3,604.1 L592.9,592.7" stroke="#b4b4b4" stroke-width="1.5"/>
<path d="M579.8,603.2 L554.4,605" stroke="#b4b4b4" stroke-width="1.5"/>
<path d="M579.8,603.2 L582.4,618.1" stroke="#b4b4b4" stroke-width="1.5"/>
<path d="M582.4,618.1 L569.3,627.7" stroke="#b4b4b4" stroke-width="1.5"/>
<path d="M582.4,618.1 L599.1,624.2" stroke="#b4b4b4" stroke-width="1.5"/>
<path d="M569.3,627.7 L562.3,622.4" stroke="#b4b4b4" stroke-width="1.5"/>
<path d="M569.3,627.7 L560.5,630.3" stroke="#b4b4b4" stroke-width="1.5"/>
<path d="M569.3,627.7 L574.5,639.1" stroke="#b4b4b4" stroke-width="1.5"/>
<path d="M599.1,624.2 L599.1,635.6" stroke="#b4b4b4" stroke-width="1.5"/>
<path d="M590.3,604.1 L606.1,597.9" stroke="#b4b4b4" stroke-width="1.5"/>
<path d="M590.3,604.1 L600.8,605" stroke="#b4b4b4" stroke-width="1.5"/>
<path d="M622.2,604.9 L635.8,604.1" stroke="#b4b4b4" stroke-width="1.5"/>
<path d="M635.8,604.1 L644.6,588.3" stroke="#b4b4b4" stroke-width="1.5"/>
<path d="M644.6,588.3 L647.2,580.4" stroke="#b4b4b4" stroke-width="1.5"/>
<path d="M647.2,580.4 L637.6,565.5" stroke="#b4b4b4" stroke-width="1.5"/>
<path d="M637.6,565.5 L620.1,569" stroke="#b4b4b4" stroke-width="1.5"/>
<path d="M620.1,569 L613,557.6" stroke="#b4b4b4" stroke-width="1.5"/>
<path d="M620.1,569 L621,558.5" stroke="#b4b4b4" stroke-width="1.5"/>
<path d="M637.6,565.5 L654.2,561.1" stroke="#b4b4b4" stroke-width="1.5"/>
<path d="M654.2,561.1 L664.8,561.1" stroke="#b4b4b4" stroke-width="1.5"/>
<path d="M654.2,561.1 L657.8,555.3" stroke="#b4b4b4" stroke-width="1.5"/>
<path d="M637.6,565.5 L643,545.7" stroke="#b4b4b4" stroke-width="1.5"/>
<path d="M643,545.7 L626.5,548.1" stroke="#b4b4b4" stroke-width="1.5"/>
<path d="M626.5,548.1 L631,541" stroke="#b4b4b4" stroke-width="1.5"/>
<path d="M647.2,580.4 L639.3,579.5" stroke="#b4b4b4" stroke-width="1.5"/>
<path d="M647.2,580.4 L650.7,571.6" stroke="#b4b4b4" stroke-width="1.5"/>
<path d="M644.6,588.3 L656.9,590" stroke="#b4b4b4" stroke-width="1.5"/>
<path d="M635.8,604.1 L655.1,619" stroke="#b4b4b4" stroke-width="1.5"/>
<path d="M635.8,604.1 L636.7,627.7" stroke="#b4b4b4" stroke-width="1.5"/>
<path d="M620.1,569 L616.6,576.9" stroke="#b4b4b4" stroke-width="1.5"/>
<path d="M620.1,569 L626.2,577.8" stroke="#b4b4b4" stroke-width="1.5"/>
<path d="M642.9,552 L643,545.7" stroke="#b4b4b4" stroke-width="1.5"/>
<circle cx="587.1" cy="517.1" r="5.2" fill="url(#gC)"/>
<circle cx="603.2" cy="519.2" r="5.2" fill="url(#gC)"/>
<circle cx="609.6" cy="534.7" r="5.2" fill="url(#gC)"/>
<circle cx="599.2" cy="547.3" r="5.2" fill="url(#gC)"/>
<circle cx="582.3" cy="544.9" r="5.2" fill="url(#gC)"/>
<circle cx="576.7" cy="529.3" r="5.2" fill="url(#gC)"/>
<circle cx="613.6" cy="507.1" r="5.2" fill="url(#gN)"/>
<circle cx="608" cy="491.1" r="5.2" fill="url(#gC)"/>
<circle cx="630.5" cy="509.5" r="5.2" fill="url(#gC)"/>
<circle cx="582.3" cy="504.7" r="3.5" fill="url(#gH)"/>
<circle cx="564.3" cy="528" r="3.5" fill="url(#gH)"/>
<circle cx="600.8" cy="487.5" r="3.5" fill="url(#gH)"/>
<circle cx="618.4" cy="483" r="3.5" fill="url(#gH)"/>
<circle cx="636.9" cy="498.3" r="3.5" fill="url(#gH)"/>
<circle cx="635.3" cy="516" r="3.5" fill="url(#gH)"/>
<circle cx="620" cy="538.5" r="3.5" fill="url(#gH)"/>
<circle cx="571.5" cy="556.8" r="5.2" fill="url(#gN)"/>
<circle cx="607" cy="565.8" r="5.8" fill="url(#gS)"/>
<circle cx="574.5" cy="570.8" r="5.2" fill="url(#gC)"/>
<circle cx="562.3" cy="581.3" r="5.2" fill="url(#gC)"/>
<circle cx="578" cy="594.4" r="5.2" fill="url(#gC)"/>
<circle cx="592.9" cy="592.7" r="5.2" fill="url(#gC)"/>
<circle cx="582.4" cy="577.8" r="5.2" fill="url(#gC)"/>
<circle cx="592.9" cy="577.8" r="5.2" fill="url(#gC)"/>
<circle cx="564.9" cy="599.7" r="5.3" fill="url(#gO)"/>
<circle cx="579.8" cy="603.2" r="5.2" fill="url(#gC)"/>
<circle cx="590.3" cy="604.1" r="5.2" fill="url(#gC)"/>
<circle cx="582.4" cy="618.1" r="5.2" fill="url(#gN)"/>
<circle cx="569.3" cy="627.7" r="5.2" fill="url(#gC)"/>
<circle cx="599.1" cy="624.2" r="5.2" fill="url(#gC)"/>
<circle cx="551.8" cy="576" r="3.5" fill="url(#gH)"/>
<circle cx="554.4" cy="605" r="3.5" fill="url(#gH)"/>
<circle cx="562.3" cy="622.4" r="3.5" fill="url(#gH)"/>
<circle cx="560.5" cy="630.3" r="3.5" fill="url(#gH)"/>
<circle cx="574.5" cy="639.1" r="3.5" fill="url(#gH)"/>
<circle cx="599.1" cy="635.6" r="3.5" fill="url(#gH)"/>
<circle cx="606.1" cy="597.9" r="3.5" fill="url(#gH)"/>
<circle cx="600.8" cy="605" r="3.5" fill="url(#gH)"/>
<circle cx="625.7" cy="593.9" r="5.9" fill="url(#gCl)"/>
<circle cx="622.2" cy="604.9" r="5.3" fill="url(#gO)"/>
<circle cx="635.8" cy="604.1" r="5.2" fill="url(#gC)"/>
<circle cx="620.1" cy="569" r="5.2" fill="url(#gC)"/>
<circle cx="637.6" cy="565.5" r="5.2" fill="url(#gC)"/>
<circle cx="647.2" cy="580.4" r="5.2" fill="url(#gC)"/>
<circle cx="644.6" cy="588.3" r="5.2" fill="url(#gC)"/>
<circle cx="654.2" cy="561.1" r="5.2" fill="url(#gC)"/>
<circle cx="642.9" cy="552" r="5.3" fill="url(#gO)"/>
<circle cx="643" cy="545.7" r="5.3" fill="url(#gO)"/>
<circle cx="626.5" cy="548.1" r="5.2" fill="url(#gC)"/>
<circle cx="613" cy="557.6" r="3.5" fill="url(#gH)"/>
<circle cx="621" cy="558.5" r="3.5" fill="url(#gH)"/>
<circle cx="616.6" cy="576.9" r="3.5" fill="url(#gH)"/>
<circle cx="626.2" cy="577.8" r="3.5" fill="url(#gH)"/>
<circle cx="639.3" cy="579.5" r="3.5" fill="url(#gH)"/>
<circle cx="650.7" cy="571.6" r="3.5" fill="url(#gH)"/>
<circle cx="660.4" cy="576.9" r="3.5" fill="url(#gH)"/>
<circle cx="656.9" cy="590" r="3.5" fill="url(#gH)"/>
<circle cx="655.1" cy="619" r="3.5" fill="url(#gH)"/>
<circle cx="636.7" cy="627.7" r="3.5" fill="url(#gH)"/>
<circle cx="664.8" cy="561.1" r="3.5" fill="url(#gH)"/>
<circle cx="657.8" cy="555.3" r="3.5" fill="url(#gH)"/>
<circle cx="631" cy="541" r="3.5" fill="url(#gH)"/>
</g>
<path d="M605.2,597.9 L625.7,591.8 L603.4,621.6" fill="none" stroke="#e8141a" stroke-width="1.3"/>
<text transform="translate(598.5,595.5) rotate(-9)" font-size="12.2" fill="#111">2.81 &#197;</text>
<text x="611" y="623.5" font-size="12.2" text-anchor="start" fill="#111" >2.79 &#197;</text>
</svg>
</body></html>
